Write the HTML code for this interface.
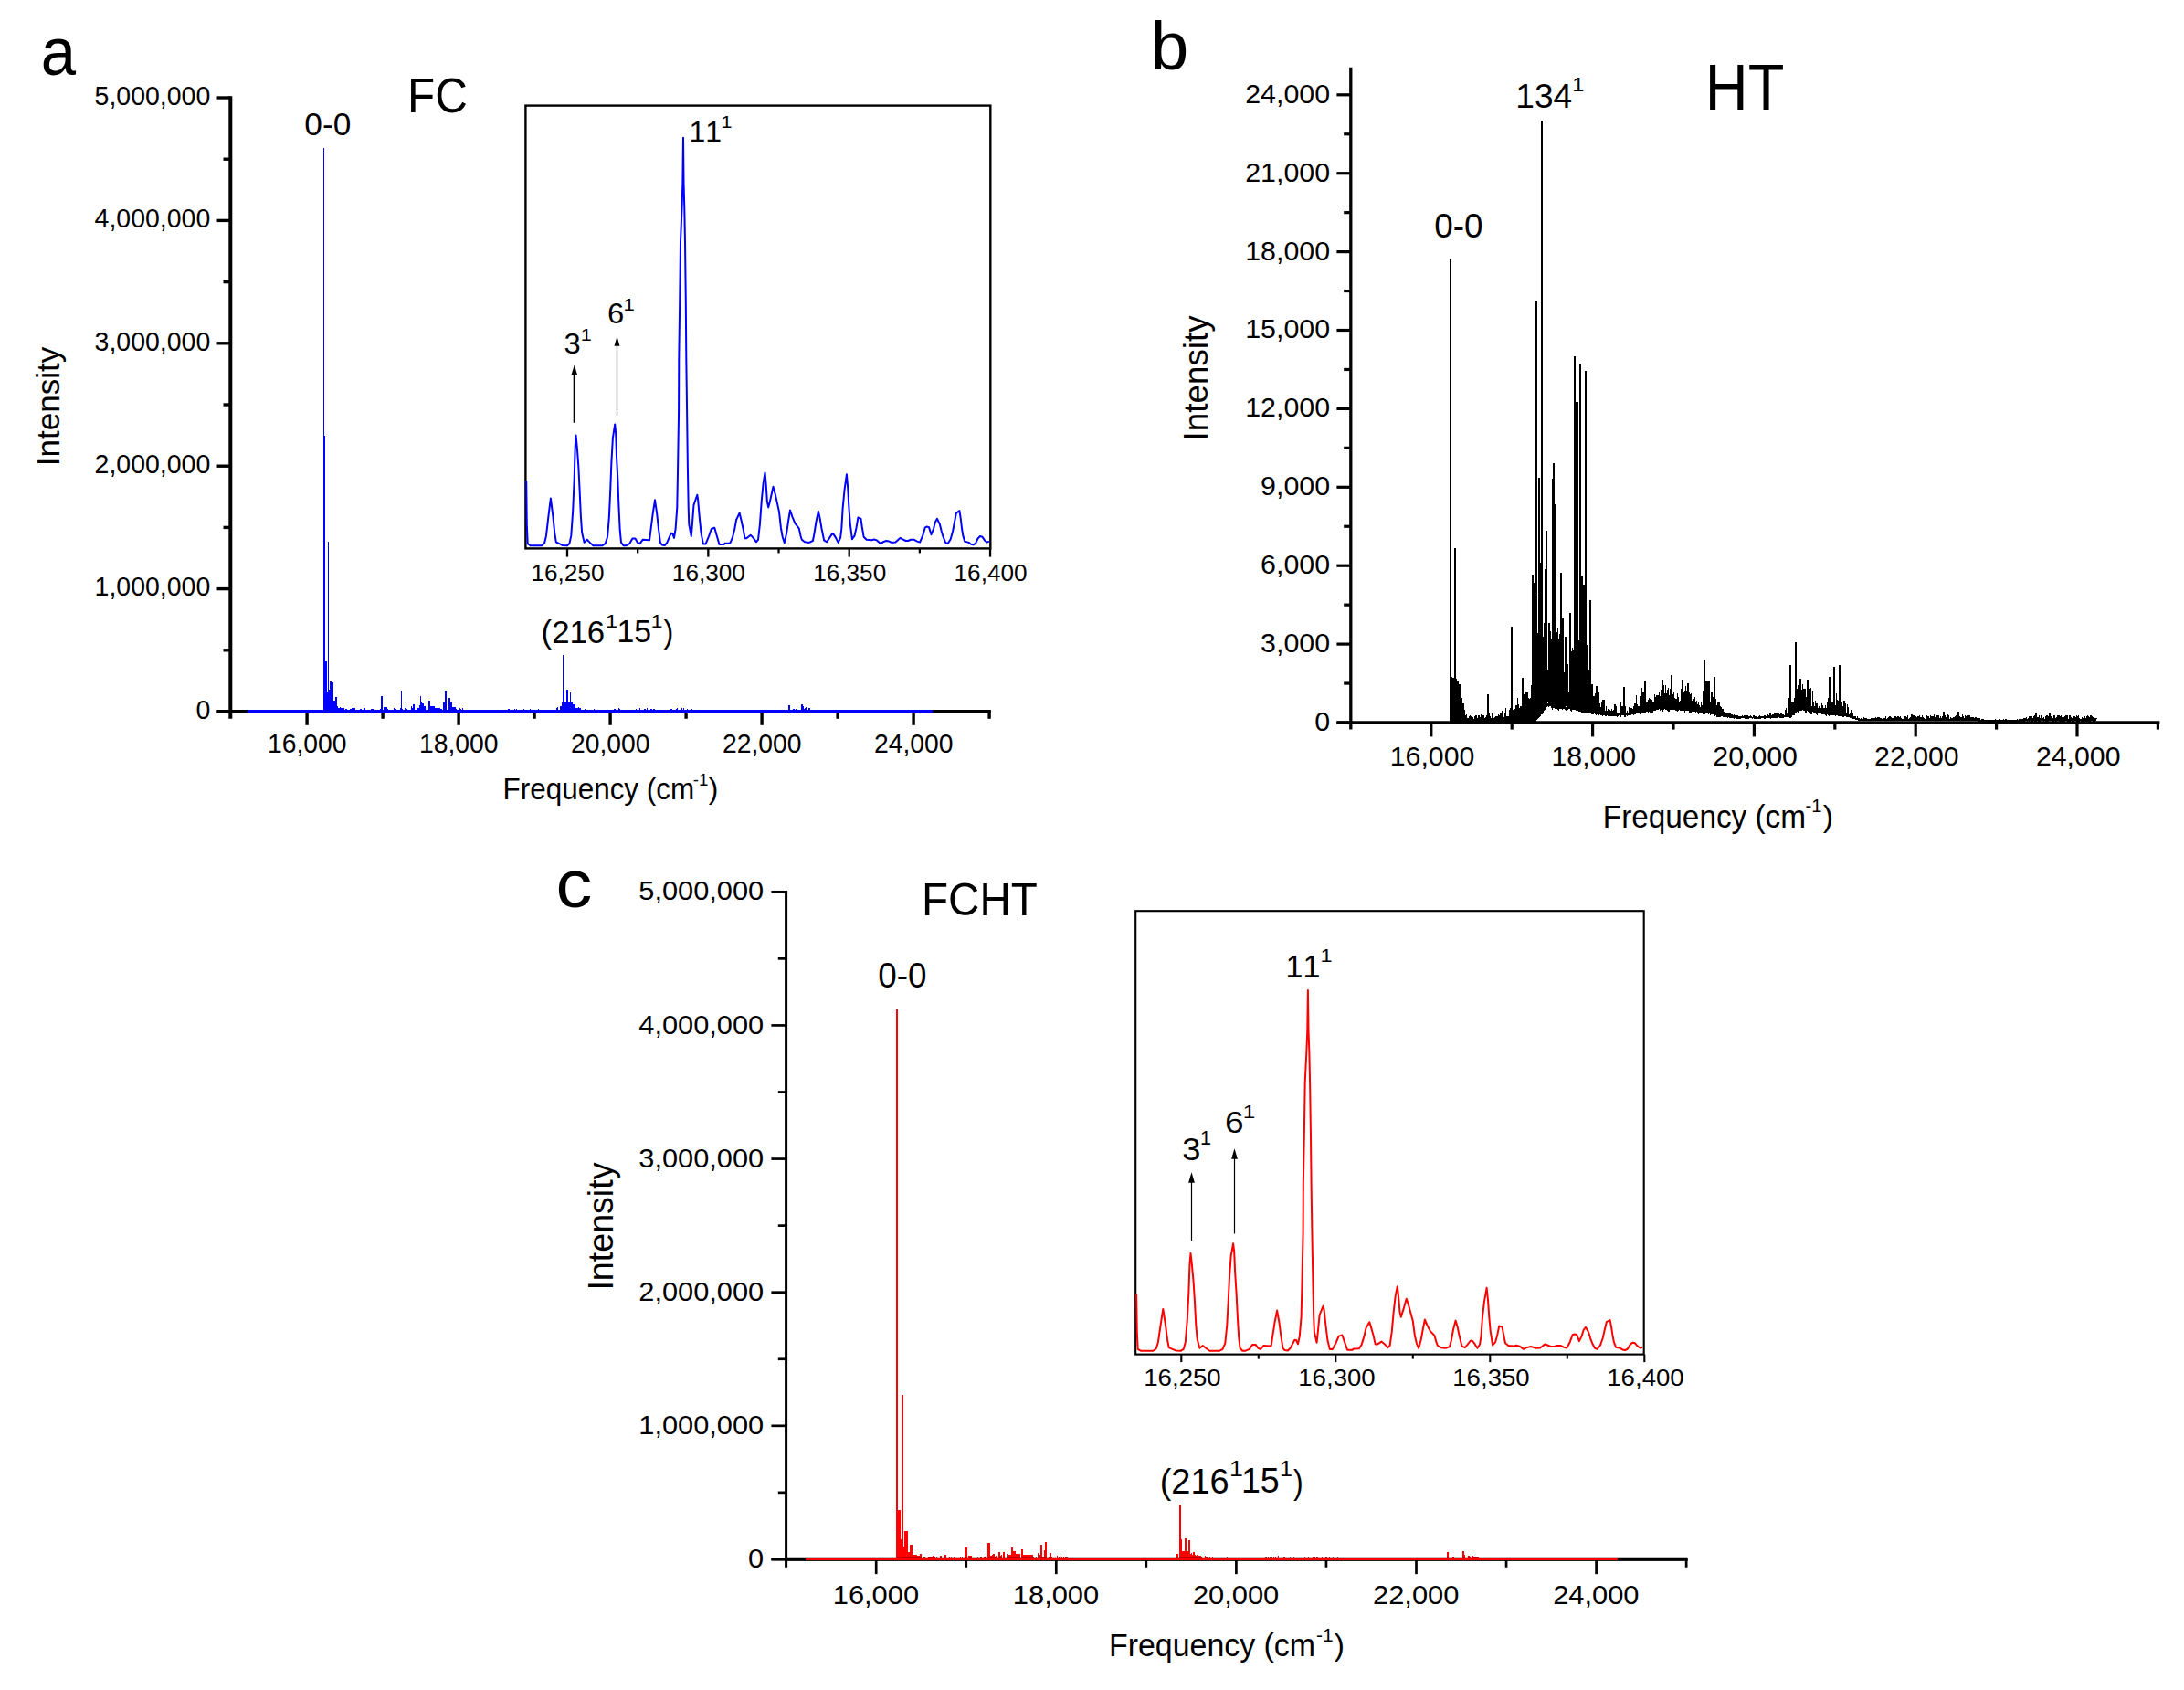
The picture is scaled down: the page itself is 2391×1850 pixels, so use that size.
<!DOCTYPE html>
<html><head><meta charset="utf-8"><title>Spectra</title><style>html,body{margin:0;padding:0;background:#fff}svg{display:block}</style></head><body>
<svg width="2391" height="1850" viewBox="0 0 2391 1850" font-family="&quot;Liberation Sans&quot;, sans-serif" fill="#000" style="font-kerning:none">
<rect width="2391" height="1850" fill="#fff"/>
<path d="M370.0 777.9V776.7H371.0V777.9ZM371.0 777.9V776.3H372.0V777.9ZM372.0 777.9V774.4H373.0V777.9ZM373.0 777.9V776.8H374.0V777.9ZM374.0 777.9V776.6H375.0V777.9ZM375.0 777.9V776.3H376.0V777.9ZM376.0 777.9V777.7H377.0V777.9ZM377.0 777.9V776.7H378.0V777.9ZM378.0 777.9V776.2H379.0V777.9ZM379.0 777.9V775.5H380.0V777.9ZM381.0 777.9V777.4H382.0V777.9ZM383.0 777.9V775.6H384.0V777.9ZM384.0 777.9V776.2H385.0V777.9ZM386.0 777.9V775.0H387.0V777.9ZM387.0 777.9V775.1H388.0V777.9ZM388.0 777.9V776.4H389.0V777.9ZM389.0 777.9V776.6H390.0V777.9ZM392.0 777.9V776.9H393.0V777.9ZM395.0 777.9V777.6H396.0V777.9ZM397.0 777.9V777.2H398.0V777.9ZM398.0 777.9V777.2H399.0V777.9ZM399.0 777.9V776.1H400.0V777.9ZM400.0 777.9V777.1H401.0V777.9ZM401.0 777.9V776.7H402.0V777.9ZM402.0 777.9V777.1H403.0V777.9ZM403.0 777.9V776.7H404.0V777.9ZM404.0 777.9V777.3H405.0V777.9ZM405.0 777.9V777.6H406.0V777.9ZM406.0 777.9V775.7H407.0V777.9ZM407.0 777.9V775.8H408.0V777.9ZM408.0 777.9V776.3H409.0V777.9ZM409.0 777.9V776.7H410.0V777.9ZM410.0 777.9V777.6H411.0V777.9ZM412.0 777.9V777.6H413.0V777.9ZM414.0 777.9V776.6H415.0V777.9ZM415.0 777.9V777.4H416.0V777.9ZM416.0 777.9V776.4H417.0V777.9ZM417.0 777.9V777.5H418.0V777.9ZM418.0 777.9V776.1H419.0V777.9ZM419.0 777.9V776.5H420.0V777.9ZM422.0 777.9V776.3H423.0V777.9ZM423.0 777.9V777.4H424.0V777.9ZM424.0 777.9V776.1H425.0V777.9ZM425.0 777.9V777.5H426.0V777.9ZM427.0 777.9V777.0H428.0V777.9ZM428.0 777.9V776.6H429.0V777.9ZM429.0 777.9V777.7H430.0V777.9ZM431.0 777.9V777.5H432.0V777.9ZM432.0 777.9V775.7H433.0V777.9ZM433.0 777.9V776.3H434.0V777.9ZM435.0 777.9V777.6H436.0V777.9ZM438.0 777.9V775.3H439.0V777.9ZM439.0 777.9V777.6H440.0V777.9ZM440.0 777.9V776.2H441.0V777.9ZM441.0 777.9V776.7H442.0V777.9ZM442.0 777.9V777.6H443.0V777.9ZM443.0 777.9V775.0H444.0V777.9ZM445.0 777.9V775.5H446.0V777.9ZM447.0 777.9V776.7H448.0V777.9ZM448.0 777.9V777.5H449.0V777.9ZM449.0 777.9V777.3H450.0V777.9ZM450.0 777.9V773.3H451.0V777.9ZM451.0 777.9V774.5H452.0V777.9ZM452.0 777.9V777.2H453.0V777.9ZM453.0 777.9V773.9H454.0V777.9ZM454.0 777.9V777.5H455.0V777.9ZM455.0 777.9V776.8H456.0V777.9ZM456.0 777.9V773.9H457.0V777.9ZM457.0 777.9V775.3H458.0V777.9ZM459.0 777.9V772.2H460.0V777.9ZM460.0 777.9V777.4H461.0V777.9ZM461.0 777.9V777.2H462.0V777.9ZM462.0 777.9V773.8H463.0V777.9ZM463.0 777.9V776.8H464.0V777.9ZM464.0 777.9V777.0H465.0V777.9ZM467.0 777.9V775.3H468.0V777.9ZM468.0 777.9V777.3H469.0V777.9ZM469.0 777.9V775.3H470.0V777.9ZM470.0 777.9V776.8H471.0V777.9ZM471.0 777.9V776.4H472.0V777.9ZM472.0 777.9V773.3H473.0V777.9ZM473.0 777.9V776.5H474.0V777.9ZM474.0 777.9V776.2H475.0V777.9ZM475.0 777.9V774.8H476.0V777.9ZM476.0 777.9V777.7H477.0V777.9ZM478.0 777.9V775.4H479.0V777.9ZM479.0 777.9V775.9H480.0V777.9ZM480.0 777.9V777.6H481.0V777.9ZM482.0 777.9V776.4H483.0V777.9ZM483.0 777.9V775.6H484.0V777.9ZM484.0 777.9V777.7H485.0V777.9ZM485.0 777.9V775.0H486.0V777.9ZM486.0 777.9V774.8H487.0V777.9ZM487.0 777.9V775.9H488.0V777.9ZM488.0 777.9V776.6H489.0V777.9ZM491.0 777.9V771.9H492.0V777.9ZM492.0 777.9V777.3H493.0V777.9ZM493.0 777.9V774.5H494.0V777.9ZM494.0 777.9V777.3H495.0V777.9ZM495.0 777.9V774.4H496.0V777.9ZM496.0 777.9V776.1H497.0V777.9ZM497.0 777.9V777.4H498.0V777.9ZM499.0 777.9V776.2H500.0V777.9ZM501.0 777.9V777.6H502.0V777.9ZM502.0 777.9V776.7H503.0V777.9ZM503.0 777.9V775.3H504.0V777.9ZM504.0 777.9V776.3H505.0V777.9ZM505.0 777.9V777.4H506.0V777.9ZM506.0 777.9V774.6H507.0V777.9ZM507.0 777.9V777.6H508.0V777.9ZM509.0 777.9V777.5H510.0V777.9ZM510.0 777.9V777.1H511.0V777.9ZM513.0 777.9V777.5H514.0V777.9ZM514.0 777.9V777.1H515.0V777.9ZM516.0 777.9V777.6H517.0V777.9ZM517.0 777.9V776.7H518.0V777.9ZM518.0 777.9V776.6H519.0V777.9ZM519.0 777.9V777.2H520.0V777.9ZM520.0 777.9V777.2H521.0V777.9ZM521.0 777.9V777.4H522.0V777.9ZM525.0 777.9V776.8H526.0V777.9ZM526.0 777.9V777.2H527.0V777.9ZM527.0 777.9V776.7H528.0V777.9ZM529.0 777.9V777.3H530.0V777.9ZM530.0 777.9V777.5H531.0V777.9ZM531.0 777.9V777.1H532.0V777.9ZM532.0 777.9V777.7H533.0V777.9ZM533.0 777.9V776.5H534.0V777.9ZM535.0 777.9V777.4H536.0V777.9ZM536.0 777.9V777.0H537.0V777.9ZM537.0 777.9V776.7H538.0V777.9ZM538.0 777.9V777.0H539.0V777.9ZM539.0 777.9V777.0H540.0V777.9ZM540.0 777.9V776.8H541.0V777.9ZM541.0 777.9V776.5H542.0V777.9ZM542.0 777.9V777.6H543.0V777.9ZM543.0 777.9V777.0H544.0V777.9ZM544.0 777.9V776.5H545.0V777.9ZM545.0 777.9V776.5H546.0V777.9ZM546.0 777.9V777.5H547.0V777.9ZM547.0 777.9V776.7H548.0V777.9ZM548.0 777.9V776.5H549.0V777.9ZM549.0 777.9V777.1H550.0V777.9ZM550.0 777.9V777.0H551.0V777.9ZM551.0 777.9V777.5H552.0V777.9ZM552.0 777.9V777.1H553.0V777.9ZM553.0 777.9V777.0H554.0V777.9ZM555.0 777.9V776.9H556.0V777.9ZM556.0 777.9V775.8H557.0V777.9ZM557.0 777.9V776.1H558.0V777.9ZM558.0 777.9V776.6H559.0V777.9ZM559.0 777.9V777.4H560.0V777.9ZM560.0 777.9V776.5H561.0V777.9ZM561.0 777.9V776.9H562.0V777.9ZM562.0 777.9V777.3H563.0V777.9ZM563.0 777.9V776.1H564.0V777.9ZM565.0 777.9V776.4H566.0V777.9ZM567.0 777.9V776.8H568.0V777.9ZM568.0 777.9V777.2H569.0V777.9ZM569.0 777.9V777.7H570.0V777.9ZM570.0 777.9V776.5H571.0V777.9ZM571.0 777.9V777.1H572.0V777.9ZM572.0 777.9V776.8H573.0V777.9ZM573.0 777.9V775.8H574.0V777.9ZM574.0 777.9V777.6H575.0V777.9ZM576.0 777.9V777.6H577.0V777.9ZM577.0 777.9V776.7H578.0V777.9ZM580.0 777.9V776.0H581.0V777.9ZM581.0 777.9V776.8H582.0V777.9ZM582.0 777.9V777.3H583.0V777.9ZM583.0 777.9V776.2H584.0V777.9ZM584.0 777.9V777.6H585.0V777.9ZM585.0 777.9V776.9H586.0V777.9ZM587.0 777.9V777.4H588.0V777.9ZM588.0 777.9V776.6H589.0V777.9ZM589.0 777.9V776.3H590.0V777.9ZM590.0 777.9V776.5H591.0V777.9ZM591.0 777.9V777.5H592.0V777.9ZM592.0 777.9V777.2H593.0V777.9ZM593.0 777.9V777.6H594.0V777.9ZM595.0 777.9V777.4H596.0V777.9ZM596.0 777.9V776.7H597.0V777.9ZM597.0 777.9V776.7H598.0V777.9ZM598.0 777.9V777.0H599.0V777.9ZM599.0 777.9V776.5H600.0V777.9ZM602.0 777.9V777.5H603.0V777.9ZM603.0 777.9V777.7H604.0V777.9ZM605.0 777.9V777.4H606.0V777.9ZM606.0 777.9V776.7H607.0V777.9ZM607.0 777.9V776.9H608.0V777.9ZM608.0 777.9V777.4H609.0V777.9ZM609.0 777.9V775.1H610.0V777.9ZM610.0 777.9V774.2H611.0V777.9ZM611.0 777.9V776.9H612.0V777.9ZM614.0 777.9V775.8H615.0V777.9ZM616.0 777.9V776.9H617.0V777.9ZM617.0 777.9V777.3H618.0V777.9ZM618.0 777.9V777.7H619.0V777.9ZM619.0 777.9V777.0H620.0V777.9ZM621.0 777.9V777.5H622.0V777.9ZM622.0 777.9V775.4H623.0V777.9ZM624.0 777.9V772.4H625.0V777.9ZM625.0 777.9V777.2H626.0V777.9ZM626.0 777.9V777.6H627.0V777.9ZM628.0 777.9V775.3H629.0V777.9ZM629.0 777.9V776.5H630.0V777.9ZM630.0 777.9V775.6H631.0V777.9ZM631.0 777.9V775.6H632.0V777.9ZM632.0 777.9V775.0H633.0V777.9ZM633.0 777.9V774.3H634.0V777.9ZM634.0 777.9V775.9H635.0V777.9ZM635.0 777.9V777.6H636.0V777.9ZM636.0 777.9V776.9H637.0V777.9ZM639.0 777.9V777.1H640.0V777.9ZM640.0 777.9V776.4H641.0V777.9ZM642.0 777.9V777.6H643.0V777.9ZM643.0 777.9V777.5H644.0V777.9ZM644.0 777.9V776.7H645.0V777.9ZM645.0 777.9V777.2H646.0V777.9ZM646.0 777.9V777.0H647.0V777.9ZM647.0 777.9V776.7H648.0V777.9ZM648.0 777.9V777.5H649.0V777.9ZM649.0 777.9V776.7H650.0V777.9ZM650.0 777.9V776.4H651.0V777.9ZM652.0 777.9V776.4H653.0V777.9ZM653.0 777.9V776.9H654.0V777.9ZM655.0 777.9V777.5H656.0V777.9ZM656.0 777.9V777.2H657.0V777.9ZM657.0 777.9V776.6H658.0V777.9ZM658.0 777.9V777.6H659.0V777.9ZM659.0 777.9V777.3H660.0V777.9ZM660.0 777.9V776.7H661.0V777.9ZM661.0 777.9V776.9H662.0V777.9ZM662.0 777.9V776.6H663.0V777.9ZM663.0 777.9V777.5H664.0V777.9ZM664.0 777.9V777.2H665.0V777.9ZM666.0 777.9V777.1H667.0V777.9ZM667.0 777.9V776.9H668.0V777.9ZM668.0 777.9V777.3H669.0V777.9ZM669.0 777.9V777.1H670.0V777.9ZM671.0 777.9V776.7H672.0V777.9ZM672.0 777.9V776.3H673.0V777.9ZM673.0 777.9V775.9H674.0V777.9ZM674.0 777.9V777.0H675.0V777.9ZM675.0 777.9V775.8H676.0V777.9ZM676.0 777.9V777.3H677.0V777.9ZM677.0 777.9V775.0H678.0V777.9ZM678.0 777.9V775.6H679.0V777.9ZM679.0 777.9V777.4H680.0V777.9ZM681.0 777.9V777.5H682.0V777.9ZM682.0 777.9V777.4H683.0V777.9ZM683.0 777.9V777.1H684.0V777.9ZM684.0 777.9V777.5H685.0V777.9ZM686.0 777.9V777.0H687.0V777.9ZM688.0 777.9V777.0H689.0V777.9ZM690.0 777.9V777.6H691.0V777.9ZM691.0 777.9V776.9H692.0V777.9ZM694.0 777.9V777.2H695.0V777.9ZM695.0 777.9V776.7H696.0V777.9ZM696.0 777.9V776.2H697.0V777.9ZM697.0 777.9V776.5H698.0V777.9ZM698.0 777.9V775.4H699.0V777.9ZM699.0 777.9V777.0H700.0V777.9ZM700.0 777.9V775.0H701.0V777.9ZM702.0 777.9V777.6H703.0V777.9ZM703.0 777.9V776.6H704.0V777.9ZM704.0 777.9V777.4H705.0V777.9ZM705.0 777.9V775.6H706.0V777.9ZM706.0 777.9V776.0H707.0V777.9ZM707.0 777.9V776.6H708.0V777.9ZM708.0 777.9V775.1H709.0V777.9ZM709.0 777.9V776.5H710.0V777.9ZM710.0 777.9V777.4H711.0V777.9ZM711.0 777.9V777.2H712.0V777.9ZM712.0 777.9V775.7H713.0V777.9ZM713.0 777.9V775.6H714.0V777.9ZM715.0 777.9V776.2H716.0V777.9ZM716.0 777.9V775.9H717.0V777.9ZM717.0 777.9V777.2H718.0V777.9ZM718.0 777.9V777.2H719.0V777.9ZM720.0 777.9V777.3H721.0V777.9ZM721.0 777.9V777.4H722.0V777.9ZM722.0 777.9V777.3H723.0V777.9ZM724.0 777.9V776.6H725.0V777.9ZM725.0 777.9V777.4H726.0V777.9ZM726.0 777.9V777.6H727.0V777.9ZM727.0 777.9V776.9H728.0V777.9ZM728.0 777.9V777.3H729.0V777.9ZM729.0 777.9V777.4H730.0V777.9ZM730.0 777.9V776.9H731.0V777.9ZM732.0 777.9V777.2H733.0V777.9ZM733.0 777.9V777.4H734.0V777.9ZM734.0 777.9V775.8H735.0V777.9ZM735.0 777.9V775.8H736.0V777.9ZM736.0 777.9V777.6H737.0V777.9ZM737.0 777.9V777.1H738.0V777.9ZM739.0 777.9V777.1H740.0V777.9ZM740.0 777.9V775.6H741.0V777.9ZM741.0 777.9V775.1H742.0V777.9ZM742.0 777.9V776.8H743.0V777.9ZM743.0 777.9V777.3H744.0V777.9ZM744.0 777.9V777.6H745.0V777.9ZM745.0 777.9V776.2H746.0V777.9ZM746.0 777.9V774.6H747.0V777.9ZM748.0 777.9V775.4H749.0V777.9ZM750.0 777.9V777.6H751.0V777.9ZM751.0 777.9V777.6H752.0V777.9ZM752.0 777.9V776.0H753.0V777.9ZM753.0 777.9V777.4H754.0V777.9ZM754.0 777.9V777.3H755.0V777.9ZM755.0 777.9V776.5H756.0V777.9ZM757.0 777.9V776.3H758.0V777.9ZM759.0 777.9V777.1H760.0V777.9ZM760.0 777.9V777.7H761.0V777.9ZM762.0 777.9V777.2H763.0V777.9ZM763.0 777.9V777.4H764.0V777.9ZM764.0 777.9V777.5H765.0V777.9ZM765.0 777.9V777.5H766.0V777.9ZM766.0 777.9V777.3H767.0V777.9ZM769.0 777.9V777.2H770.0V777.9ZM770.0 777.9V777.3H771.0V777.9ZM771.0 777.9V777.4H772.0V777.9ZM772.0 777.9V776.9H773.0V777.9ZM773.0 777.9V777.3H774.0V777.9ZM774.0 777.9V776.9H775.0V777.9ZM776.0 777.9V777.1H777.0V777.9ZM777.0 777.9V777.0H778.0V777.9ZM778.0 777.9V776.9H779.0V777.9ZM781.0 777.9V776.8H782.0V777.9ZM783.0 777.9V776.7H784.0V777.9ZM784.0 777.9V776.9H785.0V777.9ZM787.0 777.9V777.2H788.0V777.9ZM790.0 777.9V777.0H791.0V777.9ZM791.0 777.9V777.6H792.0V777.9ZM792.0 777.9V777.1H793.0V777.9ZM794.0 777.9V777.6H795.0V777.9ZM795.0 777.9V777.2H796.0V777.9ZM798.0 777.9V777.2H799.0V777.9ZM799.0 777.9V776.9H800.0V777.9ZM800.0 777.9V776.8H801.0V777.9ZM802.0 777.9V777.5H803.0V777.9ZM803.0 777.9V777.1H804.0V777.9ZM804.0 777.9V777.5H805.0V777.9ZM805.0 777.9V777.2H806.0V777.9ZM810.0 777.9V777.4H811.0V777.9ZM811.0 777.9V777.5H812.0V777.9ZM812.0 777.9V777.4H813.0V777.9ZM816.0 777.9V777.0H817.0V777.9ZM817.0 777.9V776.7H818.0V777.9ZM818.0 777.9V776.8H819.0V777.9ZM821.0 777.9V776.8H822.0V777.9ZM822.0 777.9V777.6H823.0V777.9ZM823.0 777.9V777.1H824.0V777.9ZM824.0 777.9V777.7H825.0V777.9ZM825.0 777.9V777.5H826.0V777.9ZM826.0 777.9V777.5H827.0V777.9ZM827.0 777.9V777.6H828.0V777.9ZM828.0 777.9V777.4H829.0V777.9ZM830.0 777.9V777.2H831.0V777.9ZM831.0 777.9V777.0H832.0V777.9ZM833.0 777.9V777.6H834.0V777.9ZM834.0 777.9V777.2H835.0V777.9ZM835.0 777.9V777.6H836.0V777.9ZM838.0 777.9V777.5H839.0V777.9ZM840.0 777.9V776.9H841.0V777.9ZM841.0 777.9V777.1H842.0V777.9ZM842.0 777.9V777.2H843.0V777.9ZM843.0 777.9V777.0H844.0V777.9ZM844.0 777.9V777.3H845.0V777.9ZM845.0 777.9V777.6H846.0V777.9ZM846.0 777.9V777.4H847.0V777.9ZM847.0 777.9V777.5H848.0V777.9ZM848.0 777.9V776.7H849.0V777.9ZM849.0 777.9V777.1H850.0V777.9ZM851.0 777.9V776.9H852.0V777.9ZM852.0 777.9V777.2H853.0V777.9ZM853.0 777.9V777.1H854.0V777.9ZM854.0 777.9V777.0H855.0V777.9ZM855.0 777.9V777.6H856.0V777.9ZM856.0 777.9V776.9H857.0V777.9ZM857.0 777.9V776.9H858.0V777.9ZM858.0 777.9V777.2H859.0V777.9ZM859.0 777.9V777.1H860.0V777.9ZM860.0 777.9V777.1H861.0V777.9ZM861.0 777.9V777.6H862.0V777.9ZM862.0 777.9V777.2H863.0V777.9ZM864.0 777.9V777.6H865.0V777.9ZM865.0 777.9V777.4H866.0V777.9ZM867.0 777.9V777.4H868.0V777.9ZM868.0 777.9V776.4H869.0V777.9ZM869.0 777.9V776.4H870.0V777.9ZM870.0 777.9V777.6H871.0V777.9ZM871.0 777.9V775.5H872.0V777.9ZM872.0 777.9V776.7H873.0V777.9ZM873.0 777.9V777.6H874.0V777.9ZM874.0 777.9V776.9H875.0V777.9ZM875.0 777.9V777.0H876.0V777.9ZM876.0 777.9V777.0H877.0V777.9ZM877.0 777.9V777.2H878.0V777.9ZM878.0 777.9V774.4H879.0V777.9ZM879.0 777.9V776.0H880.0V777.9ZM880.0 777.9V775.5H881.0V777.9ZM881.0 777.9V775.2H882.0V777.9ZM882.0 777.9V774.1H883.0V777.9ZM884.0 777.9V776.5H885.0V777.9ZM885.0 777.9V776.3H886.0V777.9ZM886.0 777.9V777.7H887.0V777.9ZM887.0 777.9V777.5H888.0V777.9ZM890.0 777.9V777.6H891.0V777.9ZM893.0 777.9V776.9H894.0V777.9ZM894.0 777.9V777.4H895.0V777.9ZM895.0 777.9V777.5H896.0V777.9ZM896.0 777.9V776.8H897.0V777.9ZM897.0 777.9V777.4H898.0V777.9ZM898.0 777.9V776.7H899.0V777.9ZM899.0 777.9V777.3H900.0V777.9ZM900.0 777.9V777.0H901.0V777.9ZM902.0 777.9V777.4H903.0V777.9ZM903.0 777.9V777.1H904.0V777.9ZM905.0 777.9V776.8H906.0V777.9ZM907.0 777.9V777.5H908.0V777.9ZM909.0 777.9V777.5H910.0V777.9ZM910.0 777.9V777.4H911.0V777.9ZM912.0 777.9V776.8H913.0V777.9ZM913.0 777.9V777.6H914.0V777.9ZM914.0 777.9V777.5H915.0V777.9ZM915.0 777.9V777.4H916.0V777.9ZM916.0 777.9V777.7H917.0V777.9ZM918.0 777.9V777.3H919.0V777.9ZM919.0 777.9V777.4H920.0V777.9ZM921.0 777.9V777.2H922.0V777.9ZM927.0 777.9V777.1H928.0V777.9ZM928.0 777.9V777.6H929.0V777.9ZM929.0 777.9V776.9H930.0V777.9ZM930.0 777.9V777.1H931.0V777.9ZM932.0 777.9V776.7H933.0V777.9ZM933.0 777.9V776.8H934.0V777.9ZM935.0 777.9V776.9H936.0V777.9ZM936.0 777.9V777.6H937.0V777.9ZM937.0 777.9V777.5H938.0V777.9ZM938.0 777.9V776.8H939.0V777.9ZM940.0 777.9V777.5H941.0V777.9ZM941.0 777.9V776.8H942.0V777.9ZM942.0 777.9V777.2H943.0V777.9ZM943.0 777.9V777.5H944.0V777.9ZM944.0 777.9V776.7H945.0V777.9ZM945.0 777.9V777.0H946.0V777.9ZM946.0 777.9V777.4H947.0V777.9ZM948.0 777.9V777.3H949.0V777.9ZM949.0 777.9V777.6H950.0V777.9ZM952.0 777.9V777.5H953.0V777.9ZM954.0 777.9V777.6H955.0V777.9ZM955.0 777.9V777.3H956.0V777.9ZM956.0 777.9V777.6H957.0V777.9ZM958.0 777.9V777.4H959.0V777.9ZM959.0 777.9V777.6H960.0V777.9ZM960.0 777.9V777.1H961.0V777.9ZM961.0 777.9V777.5H962.0V777.9ZM962.0 777.9V776.7H963.0V777.9ZM963.0 777.9V776.8H964.0V777.9ZM964.0 777.9V777.2H965.0V777.9ZM967.0 777.9V776.9H968.0V777.9ZM968.0 777.9V777.1H969.0V777.9ZM969.0 777.9V777.3H970.0V777.9ZM970.0 777.9V777.7H971.0V777.9ZM972.0 777.9V777.2H973.0V777.9ZM973.0 777.9V777.4H974.0V777.9ZM974.0 777.9V777.4H975.0V777.9ZM975.0 777.9V777.3H976.0V777.9ZM976.0 777.9V777.1H977.0V777.9ZM979.0 777.9V776.7H980.0V777.9ZM980.0 777.9V776.9H981.0V777.9ZM981.0 777.9V776.9H982.0V777.9ZM985.0 777.9V777.6H986.0V777.9ZM986.0 777.9V777.3H987.0V777.9ZM988.0 777.9V777.5H989.0V777.9ZM991.0 777.9V777.3H992.0V777.9ZM992.0 777.9V777.4H993.0V777.9ZM993.0 777.9V777.3H994.0V777.9ZM994.0 777.9V777.7H995.0V777.9ZM995.0 777.9V777.5H996.0V777.9ZM997.0 777.9V777.7H998.0V777.9ZM998.0 777.9V777.2H999.0V777.9ZM999.0 777.9V777.0H1000.0V777.9ZM1002.0 777.9V777.0H1003.0V777.9ZM1003.0 777.9V777.3H1004.0V777.9ZM1004.0 777.9V777.1H1005.0V777.9ZM1006.0 777.9V777.6H1007.0V777.9ZM1008.0 777.9V777.0H1009.0V777.9ZM1009.0 777.9V777.7H1010.0V777.9ZM1010.0 777.9V777.3H1011.0V777.9ZM1011.0 777.9V776.7H1012.0V777.9ZM1013.0 777.9V777.4H1014.0V777.9ZM1014.0 777.9V777.1H1015.0V777.9ZM1015.0 777.9V776.8H1016.0V777.9ZM1016.0 777.9V777.6H1017.0V777.9ZM1017.0 777.9V777.7H1018.0V777.9ZM1019.0 777.9V776.9H1020.0V777.9ZM353.9 777.9V161.8H355.1V777.9ZM355.1 777.9V476.5H356.1V777.9ZM356.0 777.9V724.0H357.7V777.9ZM357.7 777.9V757.3H358.9V777.9ZM358.9 777.9V592.5H360.0V777.9ZM359.9 777.9V755.2H361.3V777.9ZM361.3 777.9V745.7H363.0V777.9ZM363.0 777.9V747.0H365.1V777.9ZM365.1 777.9V766.5H367.0V777.9ZM367.0 777.9V763.0H369.1V777.9ZM369.1 777.9V772.9H370.1V777.9ZM370.1 777.9V774.8H376.9V777.9ZM385.4 777.9V774.6H389.0V777.9ZM393.9 777.9V775.8H396.1V777.9ZM398.2 777.9V774.8H399.9V777.9ZM417.1 777.9V761.6H419.1V777.9ZM420.2 777.9V773.6H423.8V777.9ZM430.9 777.9V774.8H432.3V777.9ZM439.1 777.9V755.6H440.1V777.9ZM444.1 777.9V771.8H445.1V777.9ZM452.2 777.9V770.5H453.9V777.9ZM456.4 777.9V774.8H459.3V777.9ZM460.0 777.9V761.6H461.0V777.9ZM461.0 777.9V768.2H462.4V777.9ZM462.4 777.9V770.1H464.2V777.9ZM464.2 777.9V772.5H466.3V777.9ZM468.9 777.9V766.5H470.9V777.9ZM471.3 777.9V773.2H476.3V777.9ZM476.3 777.9V774.5H482.0V777.9ZM484.8 777.9V768.7H486.9V777.9ZM486.9 777.9V755.6H489.1V777.9ZM490.8 777.9V763.7H493.0V777.9ZM493.0 777.9V768.7H494.7V777.9ZM496.2 777.9V773.6H499.0V777.9ZM613.3 777.9V772.5H615.0V777.9ZM615.0 777.9V768.8H616.0V777.9ZM616.0 777.9V716.7H617.1V777.9ZM617.0 777.9V755.5H618.0V777.9ZM618.0 777.9V768.8H620.0V777.9ZM620.0 777.9V754.7H622.0V777.9ZM622.0 777.9V768.5H624.2V777.9ZM624.2 777.9V757.7H625.2V777.9ZM625.2 777.9V768.8H626.7V777.9ZM626.7 777.9V770.5H630.0V777.9ZM630.0 777.9V775.2H635.8V777.9ZM863.3 777.9V771.7H865.0V777.9ZM867.5 777.9V775.5H869.2V777.9ZM877.0 777.9V770.5H878.7V777.9ZM878.7 777.9V773.0H880.0V777.9ZM882.0 777.9V775.2H883.3V777.9ZM885.3 777.9V775.2H886.7V777.9Z" fill="#0000ff" shape-rendering="crispEdges"/>
<line x1="252.30" y1="105.30" x2="252.30" y2="786.80" stroke="#000" stroke-width="4.0" />
<line x1="237.50" y1="779.00" x2="1084.90" y2="779.00" stroke="#000" stroke-width="4.0" />
<line x1="237.50" y1="779.00" x2="252.30" y2="779.00" stroke="#000" stroke-width="3.4" />
<line x1="237.50" y1="644.60" x2="252.30" y2="644.60" stroke="#000" stroke-width="3.4" />
<line x1="237.50" y1="510.20" x2="252.30" y2="510.20" stroke="#000" stroke-width="3.4" />
<line x1="237.50" y1="375.80" x2="252.30" y2="375.80" stroke="#000" stroke-width="3.4" />
<line x1="237.50" y1="241.40" x2="252.30" y2="241.40" stroke="#000" stroke-width="3.4" />
<line x1="237.50" y1="107.00" x2="252.30" y2="107.00" stroke="#000" stroke-width="3.4" />
<line x1="244.50" y1="711.80" x2="252.30" y2="711.80" stroke="#000" stroke-width="3.4" />
<line x1="244.50" y1="577.40" x2="252.30" y2="577.40" stroke="#000" stroke-width="3.4" />
<line x1="244.50" y1="443.00" x2="252.30" y2="443.00" stroke="#000" stroke-width="3.4" />
<line x1="244.50" y1="308.60" x2="252.30" y2="308.60" stroke="#000" stroke-width="3.4" />
<line x1="244.50" y1="174.20" x2="252.30" y2="174.20" stroke="#000" stroke-width="3.4" />
<line x1="336.10" y1="779.00" x2="336.10" y2="793.80" stroke="#000" stroke-width="3.4" />
<line x1="502.10" y1="779.00" x2="502.10" y2="793.80" stroke="#000" stroke-width="3.4" />
<line x1="668.10" y1="779.00" x2="668.10" y2="793.80" stroke="#000" stroke-width="3.4" />
<line x1="834.10" y1="779.00" x2="834.10" y2="793.80" stroke="#000" stroke-width="3.4" />
<line x1="1000.10" y1="779.00" x2="1000.10" y2="793.80" stroke="#000" stroke-width="3.4" />
<line x1="419.10" y1="779.00" x2="419.10" y2="786.80" stroke="#000" stroke-width="3.4" />
<line x1="585.10" y1="779.00" x2="585.10" y2="786.80" stroke="#000" stroke-width="3.4" />
<line x1="751.10" y1="779.00" x2="751.10" y2="786.80" stroke="#000" stroke-width="3.4" />
<line x1="917.10" y1="779.00" x2="917.10" y2="786.80" stroke="#000" stroke-width="3.4" />
<line x1="1083.10" y1="779.00" x2="1083.10" y2="786.80" stroke="#000" stroke-width="3.4" />
<line x1="271.00" y1="778.70" x2="1021.00" y2="778.70" stroke="#0000ff" stroke-width="3.2" shape-rendering="crispEdges"/>
<text transform="translate(230.23,786.71) scale(0.9719,1)" font-size="29.30" text-anchor="end">0</text>
<text transform="translate(230.23,652.31) scale(0.9719,1)" font-size="29.30" text-anchor="end">1,000,000</text>
<text transform="translate(230.23,517.91) scale(0.9719,1)" font-size="29.30" text-anchor="end">2,000,000</text>
<text transform="translate(230.23,383.51) scale(0.9719,1)" font-size="29.30" text-anchor="end">3,000,000</text>
<text transform="translate(230.23,249.11) scale(0.9719,1)" font-size="29.30" text-anchor="end">4,000,000</text>
<text transform="translate(230.23,114.71) scale(0.9719,1)" font-size="29.30" text-anchor="end">5,000,000</text>
<text transform="translate(336.30,823.91) scale(0.9811,1)" font-size="28.87" text-anchor="middle">16,000</text>
<text transform="translate(502.30,823.91) scale(0.9811,1)" font-size="28.87" text-anchor="middle">18,000</text>
<text transform="translate(668.30,823.91) scale(0.9811,1)" font-size="28.87" text-anchor="middle">20,000</text>
<text transform="translate(834.30,823.91) scale(0.9811,1)" font-size="28.87" text-anchor="middle">22,000</text>
<text transform="translate(1000.30,823.91) scale(0.9811,1)" font-size="28.87" text-anchor="middle">24,000</text>
<text transform="translate(44.74,82.25) scale(0.9247,1)" font-size="74.55">a</text>
<text transform="translate(64.70,510.15) rotate(-90) scale(1.0105,1)" font-size="34.64">Intensity</text>
<text transform="translate(550.48,875.00) scale(0.9648,1)" font-size="32.61">Frequency (cm</text>
<text transform="translate(758.86,860.00) scale(0.9668,1)" font-size="19.28">-1</text>
<text transform="translate(775.64,874.26) scale(1.0185,1)" font-size="31.12">)</text>
<text transform="translate(446.05,123.00) scale(0.9278,1)" font-size="53.19">FC</text>
<text transform="translate(333.29,148.35) scale(1.0223,1)" font-size="34.51">0-0</text>
<text transform="translate(592.61,703.70) scale(0.9938,1)" font-size="35.00">(216</text>
<text transform="translate(662.65,687.00) scale(1.1580,1)" font-size="21.01">1</text>
<text transform="translate(675.52,703.35) scale(0.9651,1)" font-size="35.00">15</text>
<text transform="translate(712.81,687.00) scale(1.0856,1)" font-size="21.01">1</text>
<text transform="translate(726.54,703.50) scale(0.9336,1)" font-size="34.76">)</text>
<rect x="575.4" y="115.6" width="508.9" height="484.8" fill="#fff" stroke="#000" stroke-width="2.4"/>
<line x1="621.00" y1="600.40" x2="621.00" y2="609.60" stroke="#000" stroke-width="2.3" />
<line x1="775.35" y1="600.40" x2="775.35" y2="609.60" stroke="#000" stroke-width="2.3" />
<line x1="929.70" y1="600.40" x2="929.70" y2="609.60" stroke="#000" stroke-width="2.3" />
<line x1="1084.05" y1="600.40" x2="1084.05" y2="609.60" stroke="#000" stroke-width="2.3" />
<line x1="698.17" y1="600.40" x2="698.17" y2="605.40" stroke="#000" stroke-width="2.3" />
<line x1="852.52" y1="600.40" x2="852.52" y2="605.40" stroke="#000" stroke-width="2.3" />
<line x1="1006.88" y1="600.40" x2="1006.88" y2="605.40" stroke="#000" stroke-width="2.3" />
<text transform="translate(621.50,635.55) scale(1.0446,1)" font-size="25.07" text-anchor="middle">16,250</text>
<text transform="translate(775.85,635.55) scale(1.0446,1)" font-size="25.07" text-anchor="middle">16,300</text>
<text transform="translate(930.20,635.55) scale(1.0446,1)" font-size="25.07" text-anchor="middle">16,350</text>
<text transform="translate(1084.55,635.55) scale(1.0446,1)" font-size="25.07" text-anchor="middle">16,400</text>
<polyline points="576.2,526.1 576.8,574.0 577.7,595.1 580.6,597.2 593.0,597.2 596.1,594.5 598.0,586.4 600.4,565.3 602.9,545.4 605.4,565.3 607.3,583.9 608.8,593.3 612.3,595.1 616.0,597.0 621.0,597.2 623.4,595.1 625.3,586.4 627.2,559.1 628.7,524.3 629.7,489.5 630.5,476.4 631.8,489.5 633.4,511.9 634.6,536.7 635.9,565.3 637.1,582.7 639.6,593.9 642.7,590.8 645.8,593.9 649.5,597.2 659.5,597.2 662.6,595.1 665.1,587.7 666.9,565.3 668.2,536.7 669.4,505.6 670.9,479.5 673.2,464.4 674.2,474.6 675.0,499.4 676.3,524.3 677.5,555.4 678.7,580.2 680.0,593.9 682.5,597.2 685.6,597.2 689.3,595.1 692.4,589.5 695.5,589.5 698.0,593.9 700.5,595.1 703.6,590.8 711.1,591.2 712.9,576.5 714.8,561.6 717.0,547.3 719.1,561.6 721.0,579.0 722.9,593.9 724.7,596.4 727.8,597.0 730.3,593.9 734.7,583.7 736.3,583.9 738.0,588.9 739.6,579.0 741.3,555.4 742.1,511.9 743.1,449.7 743.3,391.7 744.2,330.8 745.0,265.0 746.5,228.0 747.4,200.0 748.0,150.8 748.5,200.0 749.3,228.0 750.0,265.0 750.8,330.8 751.3,391.7 752.1,449.7 752.9,511.9 753.7,555.4 754.3,574.0 756.8,587.0 757.9,574.0 759.5,552.9 763.3,541.7 764.1,546.7 765.7,565.3 767.6,583.9 769.9,595.4 772.6,595.4 776.3,586.4 778.8,579.0 782.3,577.7 784.4,585.2 787.5,596.1 792.5,596.1 793.7,594.8 799.3,594.5 801.8,588.9 804.3,579.0 806.1,569.0 809.6,561.6 811.7,570.3 813.6,579.0 815.5,589.2 817.3,589.2 821.7,585.8 824.8,588.9 827.9,593.3 830.0,590.8 831.9,574.0 833.7,549.1 835.6,529.3 837.5,517.4 838.7,530.5 839.9,549.1 841.2,555.4 843.7,545.4 846.5,532.7 848.6,540.4 851.1,551.6 853.0,560.3 854.9,577.7 856.7,587.7 858.8,594.1 861.1,583.9 862.9,571.5 865.0,558.5 867.3,565.3 870.4,572.8 874.7,578.3 876.6,587.0 877.8,590.8 881.0,593.3 885.9,593.9 889.9,592.0 891.5,583.9 893.4,571.5 895.9,559.7 897.7,567.8 899.6,579.0 902.1,591.4 905.2,593.3 907.7,589.5 910.8,584.6 912.6,584.9 915.1,588.9 917.6,593.9 920.1,588.9 921.3,579.0 922.6,556.6 924.5,536.7 926.9,519.3 928.2,534.2 929.4,555.4 930.7,572.8 932.9,590.2 935.6,586.4 937.5,577.7 939.4,566.5 942.5,567.8 943.7,576.5 945.6,587.7 948.7,590.8 954.3,591.2 956.8,590.5 959.9,591.4 964.0,595.1 966.7,593.3 970.4,592.0 972.9,592.4 976.0,593.9 980.4,593.6 985.4,588.9 987.8,590.2 991.6,592.0 994.1,592.0 997.2,590.8 1000.9,590.8 1004.0,592.6 1007.1,593.6 1010.2,586.4 1012.7,577.7 1014.6,576.5 1017.0,577.1 1019.5,585.2 1022.0,579.0 1023.9,571.5 1026.0,567.8 1028.9,574.0 1030.7,581.5 1032.6,587.7 1035.1,593.9 1037.6,595.1 1040.7,590.2 1043.1,581.5 1045.0,571.5 1046.9,561.6 1050.4,559.1 1051.6,566.5 1053.1,579.0 1054.3,586.4 1056.2,592.6 1060.5,593.9 1063.0,595.7 1065.5,596.4 1068.0,594.9 1070.5,589.5 1073.0,587.0 1075.5,587.7 1077.9,591.4 1080.4,593.6 1082.9,592.6" fill="none" stroke="#0000ff" stroke-width="2.0" stroke-linejoin="round" />
<text transform="translate(754.51,155.00) scale(1.0031,1)" font-size="31.88">11</text>
<text transform="translate(789.30,140.00) scale(1.1441,1)" font-size="19.28">1</text>
<text transform="translate(665.05,354.38) scale(1.0291,1)" font-size="31.97">6</text>
<text transform="translate(682.60,340.00) scale(1.1441,1)" font-size="19.28">1</text>
<text transform="translate(617.39,387.18) scale(1.0297,1)" font-size="31.69">3</text>
<text transform="translate(635.64,373.00) scale(1.1244,1)" font-size="19.28">1</text>
<line x1="675.50" y1="376.80" x2="675.50" y2="454.70" stroke="#000" stroke-width="1.2" />
<path d="M675.5 368.3 L672.5 378.8 L678.5 378.8 Z" fill="#000"/>
<line x1="628.80" y1="408.00" x2="628.80" y2="462.80" stroke="#000" stroke-width="2.2" />
<path d="M628.8 399.5 L625.6 410.0 L632.0 410.0 Z" fill="#000"/>
<path d="M1001.0 1705.5V1704.2H1002.0V1705.5ZM1002.0 1705.5V1704.5H1003.0V1705.5ZM1003.0 1705.5V1703.8H1004.0V1705.5ZM1004.0 1705.5V1705.1H1005.0V1705.5ZM1005.0 1705.5V1703.5H1006.0V1705.5ZM1007.0 1705.5V1705.3H1008.0V1705.5ZM1008.0 1705.5V1704.0H1009.0V1705.5ZM1010.0 1705.5V1705.1H1011.0V1705.5ZM1011.0 1705.5V1703.9H1012.0V1705.5ZM1012.0 1705.5V1704.0H1013.0V1705.5ZM1013.0 1705.5V1705.2H1014.0V1705.5ZM1015.0 1705.5V1705.0H1016.0V1705.5ZM1016.0 1705.5V1704.0H1017.0V1705.5ZM1017.0 1705.5V1705.0H1018.0V1705.5ZM1019.0 1705.5V1704.1H1020.0V1705.5ZM1020.0 1705.5V1704.6H1021.0V1705.5ZM1021.0 1705.5V1703.4H1022.0V1705.5ZM1022.0 1705.5V1703.4H1023.0V1705.5ZM1023.0 1705.5V1703.5H1024.0V1705.5ZM1024.0 1705.5V1704.9H1025.0V1705.5ZM1025.0 1705.5V1703.9H1026.0V1705.5ZM1026.0 1705.5V1705.2H1027.0V1705.5ZM1027.0 1705.5V1705.2H1028.0V1705.5ZM1028.0 1705.5V1705.0H1029.0V1705.5ZM1029.0 1705.5V1703.6H1030.0V1705.5ZM1030.0 1705.5V1703.8H1031.0V1705.5ZM1031.0 1705.5V1705.3H1032.0V1705.5ZM1032.0 1705.5V1705.1H1033.0V1705.5ZM1033.0 1705.5V1705.1H1034.0V1705.5ZM1034.0 1705.5V1705.2H1035.0V1705.5ZM1035.0 1705.5V1705.1H1036.0V1705.5ZM1036.0 1705.5V1705.1H1037.0V1705.5ZM1038.0 1705.5V1704.8H1039.0V1705.5ZM1039.0 1705.5V1704.2H1040.0V1705.5ZM1040.0 1705.5V1704.8H1041.0V1705.5ZM1041.0 1705.5V1704.2H1042.0V1705.5ZM1042.0 1705.5V1704.8H1043.0V1705.5ZM1044.0 1705.5V1704.4H1045.0V1705.5ZM1045.0 1705.5V1704.1H1046.0V1705.5ZM1046.0 1705.5V1705.3H1047.0V1705.5ZM1048.0 1705.5V1705.0H1049.0V1705.5ZM1049.0 1705.5V1704.9H1050.0V1705.5ZM1050.0 1705.5V1704.9H1051.0V1705.5ZM1051.0 1705.5V1704.0H1052.0V1705.5ZM1052.0 1705.5V1704.7H1053.0V1705.5ZM1053.0 1705.5V1704.4H1054.0V1705.5ZM1055.0 1705.5V1704.9H1056.0V1705.5ZM1056.0 1705.5V1704.5H1057.0V1705.5ZM1059.0 1705.5V1704.6H1060.0V1705.5ZM1060.0 1705.5V1704.3H1061.0V1705.5ZM1062.0 1705.5V1704.8H1063.0V1705.5ZM1064.0 1705.5V1704.6H1065.0V1705.5ZM1065.0 1705.5V1704.8H1066.0V1705.5ZM1068.0 1705.5V1704.5H1069.0V1705.5ZM1069.0 1705.5V1705.0H1070.0V1705.5ZM1070.0 1705.5V1704.4H1071.0V1705.5ZM1071.0 1705.5V1705.1H1072.0V1705.5ZM1072.0 1705.5V1705.2H1073.0V1705.5ZM1073.0 1705.5V1703.7H1074.0V1705.5ZM1074.0 1705.5V1704.4H1075.0V1705.5ZM1075.0 1705.5V1704.8H1076.0V1705.5ZM1076.0 1705.5V1704.7H1077.0V1705.5ZM1077.0 1705.5V1704.1H1078.0V1705.5ZM1078.0 1705.5V1704.0H1079.0V1705.5ZM1079.0 1705.5V1703.1H1080.0V1705.5ZM1080.0 1705.5V1704.8H1081.0V1705.5ZM1081.0 1705.5V1703.2H1082.0V1705.5ZM1082.0 1705.5V1703.8H1083.0V1705.5ZM1083.0 1705.5V1702.8H1084.0V1705.5ZM1084.0 1705.5V1702.9H1085.0V1705.5ZM1085.0 1705.5V1702.7H1086.0V1705.5ZM1086.0 1705.5V1702.3H1087.0V1705.5ZM1087.0 1705.5V1701.8H1088.0V1705.5ZM1088.0 1705.5V1703.6H1089.0V1705.5ZM1089.0 1705.5V1704.1H1090.0V1705.5ZM1090.0 1705.5V1703.2H1091.0V1705.5ZM1091.0 1705.5V1702.7H1092.0V1705.5ZM1092.0 1705.5V1704.5H1093.0V1705.5ZM1093.0 1705.5V1704.5H1094.0V1705.5ZM1095.0 1705.5V1703.0H1096.0V1705.5ZM1096.0 1705.5V1701.5H1097.0V1705.5ZM1097.0 1705.5V1704.7H1098.0V1705.5ZM1098.0 1705.5V1705.3H1099.0V1705.5ZM1099.0 1705.5V1705.2H1100.0V1705.5ZM1100.0 1705.5V1704.5H1101.0V1705.5ZM1101.0 1705.5V1704.9H1102.0V1705.5ZM1102.0 1705.5V1701.2H1103.0V1705.5ZM1104.0 1705.5V1704.8H1105.0V1705.5ZM1106.0 1705.5V1703.0H1107.0V1705.5ZM1107.0 1705.5V1702.0H1108.0V1705.5ZM1108.0 1705.5V1705.2H1109.0V1705.5ZM1110.0 1705.5V1703.9H1111.0V1705.5ZM1111.0 1705.5V1703.2H1112.0V1705.5ZM1112.0 1705.5V1700.7H1113.0V1705.5ZM1115.0 1705.5V1705.2H1116.0V1705.5ZM1116.0 1705.5V1705.1H1117.0V1705.5ZM1117.0 1705.5V1705.0H1118.0V1705.5ZM1118.0 1705.5V1702.7H1119.0V1705.5ZM1119.0 1705.5V1703.5H1120.0V1705.5ZM1120.0 1705.5V1705.1H1121.0V1705.5ZM1121.0 1705.5V1705.3H1122.0V1705.5ZM1122.0 1705.5V1705.0H1123.0V1705.5ZM1123.0 1705.5V1705.3H1124.0V1705.5ZM1124.0 1705.5V1703.4H1125.0V1705.5ZM1125.0 1705.5V1705.1H1126.0V1705.5ZM1126.0 1705.5V1704.4H1127.0V1705.5ZM1127.0 1705.5V1703.6H1128.0V1705.5ZM1128.0 1705.5V1704.8H1129.0V1705.5ZM1129.0 1705.5V1705.3H1130.0V1705.5ZM1130.0 1705.5V1703.7H1131.0V1705.5ZM1131.0 1705.5V1703.7H1132.0V1705.5ZM1132.0 1705.5V1705.2H1133.0V1705.5ZM1133.0 1705.5V1704.8H1134.0V1705.5ZM1134.0 1705.5V1703.5H1135.0V1705.5ZM1135.0 1705.5V1704.8H1136.0V1705.5ZM1136.0 1705.5V1705.3H1137.0V1705.5ZM1138.0 1705.5V1702.4H1139.0V1705.5ZM1139.0 1705.5V1702.8H1140.0V1705.5ZM1140.0 1705.5V1704.6H1141.0V1705.5ZM1141.0 1705.5V1703.9H1142.0V1705.5ZM1142.0 1705.5V1703.8H1143.0V1705.5ZM1143.0 1705.5V1704.9H1144.0V1705.5ZM1144.0 1705.5V1700.5H1145.0V1705.5ZM1145.0 1705.5V1703.0H1146.0V1705.5ZM1146.0 1705.5V1705.1H1147.0V1705.5ZM1148.0 1705.5V1704.4H1149.0V1705.5ZM1149.0 1705.5V1704.9H1150.0V1705.5ZM1150.0 1705.5V1703.5H1151.0V1705.5ZM1151.0 1705.5V1704.0H1152.0V1705.5ZM1152.0 1705.5V1704.5H1153.0V1705.5ZM1155.0 1705.5V1705.2H1156.0V1705.5ZM1156.0 1705.5V1705.3H1157.0V1705.5ZM1157.0 1705.5V1703.4H1158.0V1705.5ZM1158.0 1705.5V1704.6H1159.0V1705.5ZM1159.0 1705.5V1704.1H1160.0V1705.5ZM1160.0 1705.5V1702.6H1161.0V1705.5ZM1161.0 1705.5V1705.2H1162.0V1705.5ZM1162.0 1705.5V1704.4H1163.0V1705.5ZM1164.0 1705.5V1703.7H1165.0V1705.5ZM1166.0 1705.5V1703.8H1167.0V1705.5ZM1167.0 1705.5V1703.9H1168.0V1705.5ZM1168.0 1705.5V1704.1H1169.0V1705.5ZM1171.0 1705.5V1704.7H1172.0V1705.5ZM1173.0 1705.5V1705.2H1174.0V1705.5ZM1174.0 1705.5V1705.2H1175.0V1705.5ZM1175.0 1705.5V1704.5H1176.0V1705.5ZM1176.0 1705.5V1705.1H1177.0V1705.5ZM1177.0 1705.5V1704.7H1178.0V1705.5ZM1179.0 1705.5V1704.8H1180.0V1705.5ZM1180.0 1705.5V1705.3H1181.0V1705.5ZM1181.0 1705.5V1704.7H1182.0V1705.5ZM1183.0 1705.5V1704.8H1184.0V1705.5ZM1185.0 1705.5V1705.2H1186.0V1705.5ZM1186.0 1705.5V1705.2H1187.0V1705.5ZM1188.0 1705.5V1704.8H1189.0V1705.5ZM1193.0 1705.5V1705.2H1194.0V1705.5ZM1194.0 1705.5V1705.0H1195.0V1705.5ZM1196.0 1705.5V1705.0H1197.0V1705.5ZM1198.0 1705.5V1705.3H1199.0V1705.5ZM1199.0 1705.5V1705.3H1200.0V1705.5ZM1200.0 1705.5V1704.6H1201.0V1705.5ZM1201.0 1705.5V1704.8H1202.0V1705.5ZM1202.0 1705.5V1705.0H1203.0V1705.5ZM1204.0 1705.5V1705.3H1205.0V1705.5ZM1205.0 1705.5V1705.0H1206.0V1705.5ZM1207.0 1705.5V1705.1H1208.0V1705.5ZM1208.0 1705.5V1705.3H1209.0V1705.5ZM1210.0 1705.5V1704.6H1211.0V1705.5ZM1211.0 1705.5V1704.8H1212.0V1705.5ZM1213.0 1705.5V1705.1H1214.0V1705.5ZM1215.0 1705.5V1705.3H1216.0V1705.5ZM1216.0 1705.5V1705.2H1217.0V1705.5ZM1219.0 1705.5V1705.3H1220.0V1705.5ZM1220.0 1705.5V1705.0H1221.0V1705.5ZM1223.0 1705.5V1704.9H1224.0V1705.5ZM1225.0 1705.5V1704.6H1226.0V1705.5ZM1226.0 1705.5V1705.1H1227.0V1705.5ZM1227.0 1705.5V1704.9H1228.0V1705.5ZM1229.0 1705.5V1704.8H1230.0V1705.5ZM1233.0 1705.5V1705.0H1234.0V1705.5ZM1234.0 1705.5V1705.0H1235.0V1705.5ZM1236.0 1705.5V1705.3H1237.0V1705.5ZM1237.0 1705.5V1704.8H1238.0V1705.5ZM1238.0 1705.5V1705.1H1239.0V1705.5ZM1243.0 1705.5V1705.3H1244.0V1705.5ZM1245.0 1705.5V1704.7H1246.0V1705.5ZM1246.0 1705.5V1705.3H1247.0V1705.5ZM1247.0 1705.5V1705.2H1248.0V1705.5ZM1248.0 1705.5V1705.0H1249.0V1705.5ZM1249.0 1705.5V1704.9H1250.0V1705.5ZM1250.0 1705.5V1704.8H1251.0V1705.5ZM1251.0 1705.5V1705.3H1252.0V1705.5ZM1253.0 1705.5V1705.3H1254.0V1705.5ZM1255.0 1705.5V1705.3H1256.0V1705.5ZM1256.0 1705.5V1705.0H1257.0V1705.5ZM1257.0 1705.5V1704.6H1258.0V1705.5ZM1258.0 1705.5V1704.9H1259.0V1705.5ZM1259.0 1705.5V1705.0H1260.0V1705.5ZM1260.0 1705.5V1705.1H1261.0V1705.5ZM1264.0 1705.5V1705.0H1265.0V1705.5ZM1266.0 1705.5V1705.3H1267.0V1705.5ZM1267.0 1705.5V1705.2H1268.0V1705.5ZM1268.0 1705.5V1704.9H1269.0V1705.5ZM1269.0 1705.5V1704.8H1270.0V1705.5ZM1270.0 1705.5V1705.1H1271.0V1705.5ZM1272.0 1705.5V1704.9H1273.0V1705.5ZM1273.0 1705.5V1704.7H1274.0V1705.5ZM1274.0 1705.5V1705.2H1275.0V1705.5ZM1276.0 1705.5V1705.2H1277.0V1705.5ZM1278.0 1705.5V1705.0H1279.0V1705.5ZM1279.0 1705.5V1704.6H1280.0V1705.5ZM1280.0 1705.5V1705.2H1281.0V1705.5ZM1281.0 1705.5V1705.0H1282.0V1705.5ZM1282.0 1705.5V1704.8H1283.0V1705.5ZM1284.0 1705.5V1704.6H1285.0V1705.5ZM1285.0 1705.5V1705.1H1286.0V1705.5ZM1289.0 1705.5V1705.1H1290.0V1705.5ZM1290.0 1705.5V1705.0H1291.0V1705.5ZM1292.0 1705.5V1704.7H1293.0V1705.5ZM1294.0 1705.5V1705.3H1295.0V1705.5ZM1296.0 1705.5V1704.6H1297.0V1705.5ZM1298.0 1705.5V1704.7H1299.0V1705.5ZM1299.0 1705.5V1702.7H1300.0V1705.5ZM1300.0 1705.5V1702.7H1301.0V1705.5ZM1301.0 1705.5V1702.9H1302.0V1705.5ZM1302.0 1705.5V1704.8H1303.0V1705.5ZM1303.0 1705.5V1700.6H1304.0V1705.5ZM1304.0 1705.5V1700.2H1305.0V1705.5ZM1305.0 1705.5V1701.8H1306.0V1705.5ZM1306.0 1705.5V1703.4H1307.0V1705.5ZM1308.0 1705.5V1702.4H1309.0V1705.5ZM1309.0 1705.5V1705.0H1310.0V1705.5ZM1310.0 1705.5V1702.4H1311.0V1705.5ZM1311.0 1705.5V1705.2H1312.0V1705.5ZM1312.0 1705.5V1704.2H1313.0V1705.5ZM1313.0 1705.5V1703.2H1314.0V1705.5ZM1314.0 1705.5V1705.3H1315.0V1705.5ZM1315.0 1705.5V1704.4H1316.0V1705.5ZM1319.0 1705.5V1703.2H1320.0V1705.5ZM1320.0 1705.5V1703.5H1321.0V1705.5ZM1321.0 1705.5V1704.4H1322.0V1705.5ZM1322.0 1705.5V1705.2H1323.0V1705.5ZM1323.0 1705.5V1704.5H1324.0V1705.5ZM1324.0 1705.5V1704.4H1325.0V1705.5ZM1325.0 1705.5V1705.2H1326.0V1705.5ZM1326.0 1705.5V1704.8H1327.0V1705.5ZM1327.0 1705.5V1704.3H1328.0V1705.5ZM1330.0 1705.5V1705.1H1331.0V1705.5ZM1332.0 1705.5V1705.2H1333.0V1705.5ZM1333.0 1705.5V1705.0H1334.0V1705.5ZM1335.0 1705.5V1705.1H1336.0V1705.5ZM1337.0 1705.5V1705.0H1338.0V1705.5ZM1338.0 1705.5V1705.3H1339.0V1705.5ZM1339.0 1705.5V1704.9H1340.0V1705.5ZM1341.0 1705.5V1704.9H1342.0V1705.5ZM1343.0 1705.5V1704.4H1344.0V1705.5ZM1344.0 1705.5V1705.0H1345.0V1705.5ZM1345.0 1705.5V1705.2H1346.0V1705.5ZM1346.0 1705.5V1705.3H1347.0V1705.5ZM1347.0 1705.5V1705.0H1348.0V1705.5ZM1348.0 1705.5V1704.9H1349.0V1705.5ZM1349.0 1705.5V1704.8H1350.0V1705.5ZM1350.0 1705.5V1704.8H1351.0V1705.5ZM1351.0 1705.5V1705.2H1352.0V1705.5ZM1352.0 1705.5V1704.5H1353.0V1705.5ZM1353.0 1705.5V1704.7H1354.0V1705.5ZM1354.0 1705.5V1704.7H1355.0V1705.5ZM1355.0 1705.5V1705.3H1356.0V1705.5ZM1356.0 1705.5V1705.3H1357.0V1705.5ZM1357.0 1705.5V1705.1H1358.0V1705.5ZM1358.0 1705.5V1704.6H1359.0V1705.5ZM1359.0 1705.5V1705.2H1360.0V1705.5ZM1360.0 1705.5V1705.2H1361.0V1705.5ZM1361.0 1705.5V1705.3H1362.0V1705.5ZM1362.0 1705.5V1704.7H1363.0V1705.5ZM1365.0 1705.5V1704.9H1366.0V1705.5ZM1366.0 1705.5V1704.7H1367.0V1705.5ZM1367.0 1705.5V1704.9H1368.0V1705.5ZM1368.0 1705.5V1705.1H1369.0V1705.5ZM1369.0 1705.5V1704.9H1370.0V1705.5ZM1371.0 1705.5V1705.1H1372.0V1705.5ZM1374.0 1705.5V1705.3H1375.0V1705.5ZM1375.0 1705.5V1705.2H1376.0V1705.5ZM1376.0 1705.5V1705.3H1377.0V1705.5ZM1378.0 1705.5V1704.9H1379.0V1705.5ZM1379.0 1705.5V1705.1H1380.0V1705.5ZM1382.0 1705.5V1705.3H1383.0V1705.5ZM1385.0 1705.5V1704.3H1386.0V1705.5ZM1386.0 1705.5V1704.1H1387.0V1705.5ZM1387.0 1705.5V1704.7H1388.0V1705.5ZM1388.0 1705.5V1704.2H1389.0V1705.5ZM1389.0 1705.5V1705.1H1390.0V1705.5ZM1390.0 1705.5V1704.2H1391.0V1705.5ZM1392.0 1705.5V1704.3H1393.0V1705.5ZM1393.0 1705.5V1704.7H1394.0V1705.5ZM1394.0 1705.5V1703.7H1395.0V1705.5ZM1396.0 1705.5V1704.0H1397.0V1705.5ZM1398.0 1705.5V1704.7H1399.0V1705.5ZM1399.0 1705.5V1703.4H1400.0V1705.5ZM1401.0 1705.5V1705.3H1402.0V1705.5ZM1402.0 1705.5V1705.2H1403.0V1705.5ZM1403.0 1705.5V1705.2H1404.0V1705.5ZM1405.0 1705.5V1704.0H1406.0V1705.5ZM1406.0 1705.5V1704.2H1407.0V1705.5ZM1407.0 1705.5V1705.2H1408.0V1705.5ZM1408.0 1705.5V1705.2H1409.0V1705.5ZM1409.0 1705.5V1704.9H1410.0V1705.5ZM1412.0 1705.5V1704.4H1413.0V1705.5ZM1414.0 1705.5V1705.2H1415.0V1705.5ZM1415.0 1705.5V1704.5H1416.0V1705.5ZM1416.0 1705.5V1704.4H1417.0V1705.5ZM1417.0 1705.5V1705.2H1418.0V1705.5ZM1420.0 1705.5V1704.6H1421.0V1705.5ZM1421.0 1705.5V1704.6H1422.0V1705.5ZM1423.0 1705.5V1704.7H1424.0V1705.5ZM1424.0 1705.5V1705.3H1425.0V1705.5ZM1425.0 1705.5V1705.2H1426.0V1705.5ZM1427.0 1705.5V1704.5H1428.0V1705.5ZM1428.0 1705.5V1704.3H1429.0V1705.5ZM1430.0 1705.5V1704.9H1431.0V1705.5ZM1432.0 1705.5V1704.3H1433.0V1705.5ZM1435.0 1705.5V1704.5H1436.0V1705.5ZM1436.0 1705.5V1705.3H1437.0V1705.5ZM1437.0 1705.5V1704.0H1438.0V1705.5ZM1438.0 1705.5V1704.0H1439.0V1705.5ZM1439.0 1705.5V1704.4H1440.0V1705.5ZM1441.0 1705.5V1704.4H1442.0V1705.5ZM1442.0 1705.5V1703.6H1443.0V1705.5ZM1443.0 1705.5V1704.9H1444.0V1705.5ZM1445.0 1705.5V1705.3H1446.0V1705.5ZM1446.0 1705.5V1705.2H1447.0V1705.5ZM1447.0 1705.5V1704.2H1448.0V1705.5ZM1450.0 1705.5V1705.3H1451.0V1705.5ZM1451.0 1705.5V1704.4H1452.0V1705.5ZM1452.0 1705.5V1704.1H1453.0V1705.5ZM1453.0 1705.5V1705.1H1454.0V1705.5ZM1454.0 1705.5V1704.5H1455.0V1705.5ZM1455.0 1705.5V1703.9H1456.0V1705.5ZM1456.0 1705.5V1704.7H1457.0V1705.5ZM1458.0 1705.5V1705.3H1459.0V1705.5ZM1459.0 1705.5V1704.0H1460.0V1705.5ZM1460.0 1705.5V1704.7H1461.0V1705.5ZM1461.0 1705.5V1705.3H1462.0V1705.5ZM1462.0 1705.5V1704.8H1463.0V1705.5ZM1464.0 1705.5V1704.2H1465.0V1705.5ZM1465.0 1705.5V1705.2H1466.0V1705.5ZM1466.0 1705.5V1705.1H1467.0V1705.5ZM1467.0 1705.5V1705.1H1468.0V1705.5ZM1469.0 1705.5V1705.0H1470.0V1705.5ZM1472.0 1705.5V1704.8H1473.0V1705.5ZM1475.0 1705.5V1704.9H1476.0V1705.5ZM1478.0 1705.5V1705.2H1479.0V1705.5ZM1480.0 1705.5V1704.7H1481.0V1705.5ZM1481.0 1705.5V1704.6H1482.0V1705.5ZM1483.0 1705.5V1705.3H1484.0V1705.5ZM1484.0 1705.5V1704.9H1485.0V1705.5ZM1485.0 1705.5V1705.3H1486.0V1705.5ZM1486.0 1705.5V1704.7H1487.0V1705.5ZM1487.0 1705.5V1705.2H1488.0V1705.5ZM1489.0 1705.5V1705.2H1490.0V1705.5ZM1490.0 1705.5V1705.1H1491.0V1705.5ZM1492.0 1705.5V1705.0H1493.0V1705.5ZM1493.0 1705.5V1704.9H1494.0V1705.5ZM1494.0 1705.5V1705.2H1495.0V1705.5ZM1495.0 1705.5V1705.2H1496.0V1705.5ZM1496.0 1705.5V1704.8H1497.0V1705.5ZM1497.0 1705.5V1705.0H1498.0V1705.5ZM1498.0 1705.5V1705.2H1499.0V1705.5ZM1499.0 1705.5V1704.6H1500.0V1705.5ZM1501.0 1705.5V1704.9H1502.0V1705.5ZM1503.0 1705.5V1705.1H1504.0V1705.5ZM1505.0 1705.5V1705.3H1506.0V1705.5ZM1506.0 1705.5V1704.9H1507.0V1705.5ZM1507.0 1705.5V1704.9H1508.0V1705.5ZM1508.0 1705.5V1704.9H1509.0V1705.5ZM1510.0 1705.5V1705.2H1511.0V1705.5ZM1512.0 1705.5V1705.1H1513.0V1705.5ZM1513.0 1705.5V1705.2H1514.0V1705.5ZM1515.0 1705.5V1705.1H1516.0V1705.5ZM1516.0 1705.5V1705.0H1517.0V1705.5ZM1517.0 1705.5V1705.1H1518.0V1705.5ZM1518.0 1705.5V1704.7H1519.0V1705.5ZM1522.0 1705.5V1705.2H1523.0V1705.5ZM1523.0 1705.5V1705.3H1524.0V1705.5ZM1524.0 1705.5V1705.3H1525.0V1705.5ZM1526.0 1705.5V1704.9H1527.0V1705.5ZM1528.0 1705.5V1704.7H1529.0V1705.5ZM1529.0 1705.5V1705.1H1530.0V1705.5ZM1530.0 1705.5V1705.2H1531.0V1705.5ZM1531.0 1705.5V1704.9H1532.0V1705.5ZM1537.0 1705.5V1705.1H1538.0V1705.5ZM1538.0 1705.5V1705.2H1539.0V1705.5ZM1540.0 1705.5V1705.1H1541.0V1705.5ZM1542.0 1705.5V1704.8H1543.0V1705.5ZM1546.0 1705.5V1705.0H1547.0V1705.5ZM1547.0 1705.5V1704.8H1548.0V1705.5ZM1548.0 1705.5V1704.9H1549.0V1705.5ZM1550.0 1705.5V1705.3H1551.0V1705.5ZM1553.0 1705.5V1704.6H1554.0V1705.5ZM1555.0 1705.5V1705.2H1556.0V1705.5ZM1556.0 1705.5V1704.9H1557.0V1705.5ZM1557.0 1705.5V1704.6H1558.0V1705.5ZM1559.0 1705.5V1705.3H1560.0V1705.5ZM1560.0 1705.5V1704.9H1561.0V1705.5ZM1563.0 1705.5V1704.7H1564.0V1705.5ZM1565.0 1705.5V1705.3H1566.0V1705.5ZM1567.0 1705.5V1705.3H1568.0V1705.5ZM1570.0 1705.5V1704.6H1571.0V1705.5ZM1571.0 1705.5V1704.9H1572.0V1705.5ZM1572.0 1705.5V1704.9H1573.0V1705.5ZM1575.0 1705.5V1705.2H1576.0V1705.5ZM1577.0 1705.5V1705.3H1578.0V1705.5ZM1578.0 1705.5V1704.7H1579.0V1705.5ZM1581.0 1705.5V1704.6H1582.0V1705.5ZM1582.0 1705.5V1705.1H1583.0V1705.5ZM1584.0 1705.5V1705.3H1585.0V1705.5ZM1585.0 1705.5V1705.0H1586.0V1705.5ZM1588.0 1705.5V1705.0H1589.0V1705.5ZM1589.0 1705.5V1704.8H1590.0V1705.5ZM1590.0 1705.5V1705.1H1591.0V1705.5ZM1591.0 1705.5V1704.7H1592.0V1705.5ZM1592.0 1705.5V1705.3H1593.0V1705.5ZM1593.0 1705.5V1705.3H1594.0V1705.5ZM1594.0 1705.5V1704.8H1595.0V1705.5ZM1595.0 1705.5V1705.3H1596.0V1705.5ZM1596.0 1705.5V1704.8H1597.0V1705.5ZM1598.0 1705.5V1705.3H1599.0V1705.5ZM1600.0 1705.5V1704.9H1601.0V1705.5ZM1604.0 1705.5V1704.8H1605.0V1705.5ZM1605.0 1705.5V1705.2H1606.0V1705.5ZM1606.0 1705.5V1704.8H1607.0V1705.5ZM1607.0 1705.5V1703.1H1608.0V1705.5ZM1608.0 1705.5V1704.3H1609.0V1705.5ZM1609.0 1705.5V1703.8H1610.0V1705.5ZM1611.0 1705.5V1705.2H1612.0V1705.5ZM1613.0 1705.5V1704.8H1614.0V1705.5ZM1614.0 1705.5V1705.3H1615.0V1705.5ZM1619.0 1705.5V1705.3H1620.0V1705.5ZM1620.0 1705.5V1704.7H1621.0V1705.5ZM1621.0 1705.5V1705.0H1622.0V1705.5ZM1625.0 1705.5V1704.6H1626.0V1705.5ZM1627.0 1705.5V1704.9H1628.0V1705.5ZM1628.0 1705.5V1705.0H1629.0V1705.5ZM1629.0 1705.5V1704.7H1630.0V1705.5ZM1632.0 1705.5V1705.3H1633.0V1705.5ZM1634.0 1705.5V1704.7H1635.0V1705.5ZM1636.0 1705.5V1704.9H1637.0V1705.5ZM1637.0 1705.5V1705.2H1638.0V1705.5ZM1639.0 1705.5V1705.3H1640.0V1705.5ZM1643.0 1705.5V1705.1H1644.0V1705.5ZM1646.0 1705.5V1705.3H1647.0V1705.5ZM1647.0 1705.5V1705.2H1648.0V1705.5ZM1649.0 1705.5V1705.0H1650.0V1705.5ZM1651.0 1705.5V1705.0H1652.0V1705.5ZM1652.0 1705.5V1705.0H1653.0V1705.5ZM1656.0 1705.5V1705.0H1657.0V1705.5ZM1657.0 1705.5V1705.3H1658.0V1705.5ZM1658.0 1705.5V1705.3H1659.0V1705.5ZM1659.0 1705.5V1704.8H1660.0V1705.5ZM1666.0 1705.5V1705.1H1667.0V1705.5ZM1667.0 1705.5V1705.1H1668.0V1705.5ZM1668.0 1705.5V1704.8H1669.0V1705.5ZM1669.0 1705.5V1704.6H1670.0V1705.5ZM1671.0 1705.5V1705.0H1672.0V1705.5ZM1672.0 1705.5V1704.7H1673.0V1705.5ZM1674.0 1705.5V1705.0H1675.0V1705.5ZM1675.0 1705.5V1705.0H1676.0V1705.5ZM1676.0 1705.5V1704.6H1677.0V1705.5ZM1677.0 1705.5V1704.8H1678.0V1705.5ZM1679.0 1705.5V1705.1H1680.0V1705.5ZM1681.0 1705.5V1705.3H1682.0V1705.5ZM1682.0 1705.5V1705.3H1683.0V1705.5ZM1684.0 1705.5V1705.3H1685.0V1705.5ZM1686.0 1705.5V1705.2H1687.0V1705.5ZM1689.0 1705.5V1705.3H1690.0V1705.5ZM1690.0 1705.5V1705.2H1691.0V1705.5ZM1692.0 1705.5V1705.0H1693.0V1705.5ZM1696.0 1705.5V1705.3H1697.0V1705.5ZM1698.0 1705.5V1705.1H1699.0V1705.5ZM1699.0 1705.5V1705.0H1700.0V1705.5ZM1700.0 1705.5V1705.2H1701.0V1705.5ZM1701.0 1705.5V1705.0H1702.0V1705.5ZM1703.0 1705.5V1705.3H1704.0V1705.5ZM1706.0 1705.5V1705.3H1707.0V1705.5ZM1708.0 1705.5V1705.2H1709.0V1705.5ZM1709.0 1705.5V1705.1H1710.0V1705.5ZM1710.0 1705.5V1705.3H1711.0V1705.5ZM1715.0 1705.5V1704.7H1716.0V1705.5ZM1716.0 1705.5V1705.1H1717.0V1705.5ZM1718.0 1705.5V1705.0H1719.0V1705.5ZM1720.0 1705.5V1705.3H1721.0V1705.5ZM1721.0 1705.5V1705.1H1722.0V1705.5ZM1722.0 1705.5V1704.6H1723.0V1705.5ZM1724.0 1705.5V1705.1H1725.0V1705.5ZM1725.0 1705.5V1704.6H1726.0V1705.5ZM1726.0 1705.5V1704.9H1727.0V1705.5ZM1727.0 1705.5V1705.1H1728.0V1705.5ZM1728.0 1705.5V1705.1H1729.0V1705.5ZM1729.0 1705.5V1705.3H1730.0V1705.5ZM1730.0 1705.5V1705.3H1731.0V1705.5ZM1732.0 1705.5V1704.8H1733.0V1705.5ZM1733.0 1705.5V1704.7H1734.0V1705.5ZM1734.0 1705.5V1705.3H1735.0V1705.5ZM1735.0 1705.5V1704.7H1736.0V1705.5ZM1738.0 1705.5V1705.2H1739.0V1705.5ZM1741.0 1705.5V1704.6H1742.0V1705.5ZM1745.0 1705.5V1705.0H1746.0V1705.5ZM1748.0 1705.5V1705.2H1749.0V1705.5ZM1749.0 1705.5V1705.3H1750.0V1705.5ZM1751.0 1705.5V1705.2H1752.0V1705.5ZM1752.0 1705.5V1705.0H1753.0V1705.5ZM1753.0 1705.5V1705.2H1754.0V1705.5ZM1754.0 1705.5V1705.1H1755.0V1705.5ZM1755.0 1705.5V1705.2H1756.0V1705.5ZM1756.0 1705.5V1704.8H1757.0V1705.5ZM1757.0 1705.5V1704.6H1758.0V1705.5ZM1760.0 1705.5V1704.7H1761.0V1705.5ZM1762.0 1705.5V1705.0H1763.0V1705.5ZM1763.0 1705.5V1705.0H1764.0V1705.5ZM1764.0 1705.5V1705.0H1765.0V1705.5ZM1765.0 1705.5V1704.6H1766.0V1705.5ZM1766.0 1705.5V1704.8H1767.0V1705.5ZM1768.0 1705.5V1705.1H1769.0V1705.5ZM1769.0 1705.5V1705.2H1770.0V1705.5ZM1770.0 1705.5V1705.2H1771.0V1705.5ZM981.2 1705.5V1104.7H983.2V1705.5ZM983.2 1705.5V1653.2H985.8V1705.5ZM985.8 1705.5V1684.8H987.3V1705.5ZM987.3 1705.5V1527.4H988.9V1705.5ZM988.8 1705.5V1692.5H990.1V1705.5ZM990.1 1705.5V1675.5H993.9V1705.5ZM993.9 1705.5V1698.6H995.8V1705.5ZM995.8 1705.5V1691.2H998.8V1705.5ZM998.8 1705.5V1702.0H1003.5V1705.5ZM1003.5 1705.5V1702.6H1008.8V1705.5ZM1006.5 1705.5V1701.2H1008.8V1705.5ZM1017.3 1705.5V1703.5H1022.7V1705.5ZM1028.8 1705.5V1703.2H1030.8V1705.5ZM1033.9 1705.5V1702.2H1035.8V1705.5ZM1056.1 1705.5V1694.3H1058.8V1705.5ZM1060.4 1705.5V1702.5H1063.5V1705.5ZM1081.2 1705.5V1688.6H1083.8V1705.5ZM1086.5 1705.5V1701.4H1088.8V1705.5ZM1093.0 1705.5V1699.4H1095.0V1705.5ZM1097.6 1705.5V1699.4H1100.1V1705.5ZM1103.5 1705.5V1701.7H1106.5V1705.5ZM1106.8 1705.5V1694.3H1108.8V1705.5ZM1108.8 1705.5V1697.9H1111.9V1705.5ZM1111.9 1705.5V1700.9H1117.3V1705.5ZM1117.8 1705.5V1696.3H1119.6V1705.5ZM1119.6 1705.5V1702.0H1131.2V1705.5ZM1135.8 1705.5V1700.2H1137.3V1705.5ZM1138.8 1705.5V1691.2H1140.8V1705.5ZM1142.7 1705.5V1697.1H1144.2V1705.5ZM1144.2 1705.5V1688.2H1146.1V1705.5ZM1148.8 1705.5V1700.2H1151.2V1705.5ZM1288.3 1705.5V1700.8H1290.0V1705.5ZM1291.0 1705.5V1646.5H1293.0V1705.5ZM1293.0 1705.5V1684.5H1294.2V1705.5ZM1294.2 1705.5V1697.8H1297.0V1705.5ZM1297.0 1705.5V1683.7H1299.2V1705.5ZM1299.2 1705.5V1697.8H1300.8V1705.5ZM1300.8 1705.5V1686.2H1302.8V1705.5ZM1302.8 1705.5V1702.0H1305.8V1705.5ZM1305.8 1705.5V1698.7H1308.3V1705.5ZM1308.3 1705.5V1703.3H1315.0V1705.5ZM1584.0 1705.5V1698.8H1586.0V1705.5ZM1589.5 1705.5V1704.0H1592.0V1705.5ZM1601.2 1705.5V1697.6H1603.0V1705.5ZM1603.0 1705.5V1701.5H1604.0V1705.5ZM1607.0 1705.5V1702.8H1609.3V1705.5ZM1611.0 1705.5V1702.8H1612.6V1705.5ZM1612.6 1705.5V1704.3H1619.0V1705.5Z" fill="#ff0000" shape-rendering="crispEdges"/>
<line x1="860.60" y1="974.95" x2="860.60" y2="1715.75" stroke="#000" stroke-width="3.0" />
<line x1="844.40" y1="1706.95" x2="1847.55" y2="1706.95" stroke="#000" stroke-width="3.0" />
<line x1="844.40" y1="1706.95" x2="860.60" y2="1706.95" stroke="#000" stroke-width="2.7" />
<line x1="844.40" y1="1560.82" x2="860.60" y2="1560.82" stroke="#000" stroke-width="2.7" />
<line x1="844.40" y1="1414.69" x2="860.60" y2="1414.69" stroke="#000" stroke-width="2.7" />
<line x1="844.40" y1="1268.56" x2="860.60" y2="1268.56" stroke="#000" stroke-width="2.7" />
<line x1="844.40" y1="1122.43" x2="860.60" y2="1122.43" stroke="#000" stroke-width="2.7" />
<line x1="844.40" y1="976.30" x2="860.60" y2="976.30" stroke="#000" stroke-width="2.7" />
<line x1="851.80" y1="1633.88" x2="860.60" y2="1633.88" stroke="#000" stroke-width="2.7" />
<line x1="851.80" y1="1487.76" x2="860.60" y2="1487.76" stroke="#000" stroke-width="2.7" />
<line x1="851.80" y1="1341.62" x2="860.60" y2="1341.62" stroke="#000" stroke-width="2.7" />
<line x1="851.80" y1="1195.49" x2="860.60" y2="1195.49" stroke="#000" stroke-width="2.7" />
<line x1="851.80" y1="1049.36" x2="860.60" y2="1049.36" stroke="#000" stroke-width="2.7" />
<line x1="959.20" y1="1706.95" x2="959.20" y2="1723.15" stroke="#000" stroke-width="2.7" />
<line x1="1156.30" y1="1706.95" x2="1156.30" y2="1723.15" stroke="#000" stroke-width="2.7" />
<line x1="1353.40" y1="1706.95" x2="1353.40" y2="1723.15" stroke="#000" stroke-width="2.7" />
<line x1="1550.50" y1="1706.95" x2="1550.50" y2="1723.15" stroke="#000" stroke-width="2.7" />
<line x1="1747.60" y1="1706.95" x2="1747.60" y2="1723.15" stroke="#000" stroke-width="2.7" />
<line x1="1057.75" y1="1706.95" x2="1057.75" y2="1715.75" stroke="#000" stroke-width="2.7" />
<line x1="1254.85" y1="1706.95" x2="1254.85" y2="1715.75" stroke="#000" stroke-width="2.7" />
<line x1="1451.95" y1="1706.95" x2="1451.95" y2="1715.75" stroke="#000" stroke-width="2.7" />
<line x1="1649.05" y1="1706.95" x2="1649.05" y2="1715.75" stroke="#000" stroke-width="2.7" />
<line x1="1846.15" y1="1706.95" x2="1846.15" y2="1715.75" stroke="#000" stroke-width="2.7" />
<line x1="862.00" y1="1706.85" x2="1847.50" y2="1706.85" stroke="#000" stroke-width="4.0" />
<line x1="882.00" y1="1707.05" x2="1771.00" y2="1707.05" stroke="#ff0000" stroke-width="2.0" shape-rendering="crispEdges"/>
<text transform="translate(836.11,1716.05) scale(1.0111,1)" font-size="30.42" text-anchor="end">0</text>
<text transform="translate(836.11,1569.92) scale(1.0111,1)" font-size="30.42" text-anchor="end">1,000,000</text>
<text transform="translate(836.11,1423.79) scale(1.0111,1)" font-size="30.42" text-anchor="end">2,000,000</text>
<text transform="translate(836.11,1277.66) scale(1.0111,1)" font-size="30.42" text-anchor="end">3,000,000</text>
<text transform="translate(836.11,1131.53) scale(1.0111,1)" font-size="30.42" text-anchor="end">4,000,000</text>
<text transform="translate(836.11,985.40) scale(1.0111,1)" font-size="30.42" text-anchor="end">5,000,000</text>
<text transform="translate(958.90,1755.70) scale(1.0332,1)" font-size="29.86" text-anchor="middle">16,000</text>
<text transform="translate(1156.00,1755.70) scale(1.0332,1)" font-size="29.86" text-anchor="middle">18,000</text>
<text transform="translate(1353.10,1755.70) scale(1.0332,1)" font-size="29.86" text-anchor="middle">20,000</text>
<text transform="translate(1550.20,1755.70) scale(1.0332,1)" font-size="29.86" text-anchor="middle">22,000</text>
<text transform="translate(1747.30,1755.70) scale(1.0332,1)" font-size="29.86" text-anchor="middle">24,000</text>
<text transform="translate(608.52,993.45) scale(1.0618,1)" font-size="74.91">c</text>
<text transform="translate(670.80,1412.59) rotate(-90) scale(0.9757,1)" font-size="38.55">Intensity</text>
<text transform="translate(1213.99,1813.20) scale(0.9791,1)" font-size="34.64">Frequency (cm</text>
<text transform="translate(1441.06,1797.00) scale(1.0088,1)" font-size="20.72">-1</text>
<text transform="translate(1460.63,1812.49) scale(1.0065,1)" font-size="33.37">)</text>
<text transform="translate(1008.99,1002.00) scale(0.9391,1)" font-size="50.72">FCHT</text>
<text transform="translate(961.32,1080.92) scale(0.9663,1)" font-size="38.17">0-0</text>
<text transform="translate(1269.72,1634.80) scale(0.9998,1)" font-size="38.00">(216</text>
<text transform="translate(1345.90,1615.70) scale(1.1550,1)" font-size="23.04">1</text>
<text transform="translate(1358.90,1634.42) scale(0.9901,1)" font-size="38.00">15</text>
<text transform="translate(1400.96,1615.70) scale(1.0890,1)" font-size="23.04">1</text>
<text transform="translate(1416.04,1634.53) scale(0.8668,1)" font-size="37.01">)</text>
<rect x="1243.2" y="997.2" width="556.5" height="485.4" fill="#fff" stroke="#000" stroke-width="2.1"/>
<polyline points="1244.1,1415.9 1244.8,1458.2 1245.7,1476.9 1248.8,1478.7 1262.4,1478.7 1265.8,1476.3 1267.9,1469.2 1270.6,1450.5 1273.3,1432.9 1276.0,1450.5 1278.1,1467.0 1279.7,1475.2 1283.5,1476.9 1287.6,1478.5 1293.0,1478.7 1295.7,1476.9 1297.8,1469.2 1299.8,1445.0 1301.4,1414.2 1302.5,1383.5 1303.5,1371.9 1304.8,1383.5 1306.6,1403.2 1308.0,1425.2 1309.3,1450.5 1310.7,1465.9 1313.4,1475.8 1316.8,1473.0 1320.2,1475.8 1324.3,1478.7 1335.2,1478.7 1338.5,1476.9 1341.3,1470.3 1343.3,1450.5 1344.7,1425.2 1346.0,1397.8 1347.7,1374.7 1350.1,1361.3 1351.2,1370.3 1352.1,1392.3 1353.5,1414.2 1354.9,1441.7 1356.2,1463.7 1357.6,1475.8 1360.3,1478.7 1363.7,1478.7 1367.8,1476.9 1371.2,1471.9 1374.6,1471.9 1377.3,1475.8 1380.0,1476.9 1383.4,1473.0 1391.6,1473.4 1393.6,1460.4 1395.6,1447.2 1398.1,1434.6 1400.4,1447.2 1402.4,1462.6 1404.5,1475.8 1406.5,1478.0 1409.9,1478.5 1412.6,1475.8 1417.4,1466.8 1419.1,1467.0 1421.0,1471.4 1422.8,1462.6 1424.6,1441.7 1425.5,1403.2 1426.6,1348.3 1426.8,1297.0 1427.8,1243.2 1428.7,1185.0 1430.3,1152.3 1431.3,1127.5 1431.9,1084.0 1432.5,1127.5 1433.4,1152.3 1434.1,1185.0 1435.0,1243.2 1435.6,1297.0 1436.4,1348.3 1437.4,1403.2 1438.2,1441.7 1438.9,1458.2 1441.6,1469.7 1442.8,1458.2 1444.6,1439.5 1448.6,1429.6 1449.6,1434.0 1451.4,1450.5 1453.4,1467.0 1455.8,1477.1 1458.8,1477.1 1462.9,1469.2 1465.6,1462.6 1469.4,1461.5 1471.7,1468.1 1475.1,1477.7 1480.6,1477.7 1481.9,1476.5 1488.0,1476.3 1490.8,1471.4 1493.5,1462.6 1495.5,1453.8 1499.3,1447.2 1501.6,1454.9 1503.7,1462.6 1505.7,1471.6 1507.8,1471.6 1512.5,1468.6 1515.9,1471.4 1519.3,1475.2 1521.6,1473.0 1523.7,1458.2 1525.7,1436.2 1527.7,1418.6 1529.8,1408.2 1531.1,1419.7 1532.5,1436.2 1533.8,1441.7 1536.6,1432.9 1539.7,1421.7 1542.0,1428.5 1544.7,1438.4 1546.8,1446.1 1548.8,1461.5 1550.8,1470.3 1553.1,1476.0 1555.6,1467.0 1557.6,1456.0 1559.9,1444.5 1562.4,1450.5 1565.8,1457.1 1570.5,1462.0 1572.6,1469.7 1573.9,1473.0 1577.3,1475.2 1582.8,1475.8 1587.1,1474.1 1588.9,1467.0 1590.9,1456.0 1593.6,1445.6 1595.7,1452.7 1597.7,1462.6 1600.4,1473.6 1603.8,1475.2 1606.6,1471.9 1610.0,1467.5 1612.0,1467.9 1614.7,1471.4 1617.4,1475.8 1620.1,1471.4 1621.5,1462.6 1622.9,1442.8 1624.9,1425.2 1627.6,1409.8 1629.0,1423.0 1630.3,1441.7 1631.7,1457.1 1634.1,1472.5 1637.1,1469.2 1639.2,1461.5 1641.2,1451.6 1644.6,1452.7 1646.0,1460.4 1648.0,1470.3 1651.4,1473.0 1657.5,1473.4 1660.2,1472.8 1663.6,1473.6 1668.1,1476.9 1671.1,1475.2 1675.2,1474.1 1677.9,1474.5 1681.3,1475.8 1686.1,1475.5 1691.5,1471.4 1694.2,1472.5 1698.3,1474.1 1701.0,1474.1 1704.4,1473.0 1708.5,1473.0 1711.9,1474.7 1715.3,1475.5 1718.7,1469.2 1721.4,1461.5 1723.4,1460.4 1726.2,1460.9 1728.9,1468.1 1731.6,1462.6 1733.6,1456.0 1735.9,1452.7 1739.1,1458.2 1741.1,1464.8 1743.1,1470.3 1745.9,1475.8 1748.6,1476.9 1752.0,1472.5 1754.7,1464.8 1756.7,1456.0 1758.8,1447.2 1762.6,1445.0 1763.9,1451.6 1765.6,1462.6 1766.9,1469.2 1769.0,1474.7 1773.7,1475.8 1776.4,1477.4 1779.2,1478.0 1781.9,1476.6 1784.6,1471.9 1787.3,1469.7 1790.0,1470.3 1792.8,1473.6 1795.5,1475.5 1798.2,1474.7" fill="none" stroke="#ff0000" stroke-width="2.0" stroke-linejoin="round" />
<line x1="1293.30" y1="1482.60" x2="1293.30" y2="1491.10" stroke="#000" stroke-width="2.1" />
<line x1="1462.30" y1="1482.60" x2="1462.30" y2="1491.10" stroke="#000" stroke-width="2.1" />
<line x1="1631.30" y1="1482.60" x2="1631.30" y2="1491.10" stroke="#000" stroke-width="2.1" />
<line x1="1800.30" y1="1482.60" x2="1800.30" y2="1491.10" stroke="#000" stroke-width="2.1" />
<line x1="1377.80" y1="1482.60" x2="1377.80" y2="1487.60" stroke="#000" stroke-width="2.1" />
<line x1="1546.80" y1="1482.60" x2="1546.80" y2="1487.60" stroke="#000" stroke-width="2.1" />
<line x1="1715.80" y1="1482.60" x2="1715.80" y2="1487.60" stroke="#000" stroke-width="2.1" />
<text transform="translate(1294.50,1517.24) scale(1.0720,1)" font-size="25.77" text-anchor="middle">16,250</text>
<text transform="translate(1463.50,1517.24) scale(1.0720,1)" font-size="25.77" text-anchor="middle">16,300</text>
<text transform="translate(1632.50,1517.24) scale(1.0720,1)" font-size="25.77" text-anchor="middle">16,350</text>
<text transform="translate(1801.50,1517.24) scale(1.0720,1)" font-size="25.77" text-anchor="middle">16,400</text>
<text transform="translate(1407.59,1070.00) scale(0.9916,1)" font-size="34.35">11</text>
<text transform="translate(1445.43,1052.50) scale(1.1619,1)" font-size="20.29">1</text>
<text transform="translate(1340.95,1240.46) scale(1.0897,1)" font-size="33.94">6</text>
<text transform="translate(1360.65,1224.20) scale(1.1825,1)" font-size="20.58">1</text>
<text transform="translate(1294.35,1269.65) scale(1.0494,1)" font-size="34.51">3</text>
<text transform="translate(1313.94,1253.30) scale(1.0243,1)" font-size="21.16">1</text>
<line x1="1351.50" y1="1266.70" x2="1351.50" y2="1350.50" stroke="#000" stroke-width="1.2" />
<path d="M1351.5 1257.2 L1348.1 1268.7 L1354.9 1268.7 Z" fill="#000"/>
<line x1="1304.50" y1="1292.80" x2="1304.50" y2="1358.30" stroke="#000" stroke-width="1.2" />
<path d="M1304.5 1283.3 L1301.1 1294.8 L1307.9 1294.8 Z" fill="#000"/>
<polyline points="1587.3,789.5 1587.5,772.5 1587.8,789.5 1588.0,766.1 1588.2,789.5 1588.4,773.9 1588.7,789.5 1588.9,778.3 1589.1,789.5 1589.3,778.6 1589.6,789.5 1589.8,769.5 1590.0,789.5 1590.2,777.7 1590.5,789.5 1590.7,779.1 1590.9,789.5 1591.1,752.2 1591.4,789.5 1591.6,775.9 1591.8,789.5 1592.0,773.6 1592.3,789.5 1592.5,750.2 1592.7,789.5 1592.9,757.4 1593.2,789.5 1593.4,751.9 1593.6,789.5 1593.8,759.5 1594.1,789.5 1594.3,779.3 1594.5,789.5 1594.7,743.8 1595.0,789.5 1595.2,773.3 1595.4,789.5 1595.6,749.6 1595.9,789.5 1596.1,761.5 1596.3,789.5 1596.5,777.0 1596.8,789.5 1597.0,779.9 1597.2,789.5 1597.4,769.0 1597.7,789.5 1597.9,776.4 1598.1,789.5 1598.3,777.1 1598.6,789.5 1598.8,758.9 1599.0,789.5 1599.2,765.9 1599.5,789.5 1599.7,782.1 1599.9,789.5 1600.1,764.7 1600.4,789.5 1600.6,787.3 1600.8,789.5 1601.0,781.2 1601.3,789.5 1601.5,786.3 1601.7,789.5 1601.9,785.6 1602.2,789.5 1602.4,788.2 1602.6,789.5 1602.8,788.3 1603.1,789.5 1603.3,777.6 1603.5,789.5 1603.7,786.0 1604.0,789.5 1604.2,787.1 1604.4,789.5 1604.6,785.2 1604.9,789.5 1605.1,783.0 1605.3,789.5 1605.5,787.7 1605.8,789.5 1606.0,788.9 1606.2,789.5 1606.4,789.0 1606.7,789.5 1606.9,786.2 1607.1,789.5 1607.3,789.1 1607.6,789.5 1607.8,789.1 1608.0,789.5 1608.2,785.8 1608.5,789.5 1608.7,785.6 1608.9,789.5 1609.1,784.0 1609.4,789.5 1609.6,788.0 1609.8,789.5 1610.0,784.6 1610.3,789.5 1610.5,788.7 1610.7,789.5 1610.9,786.5 1611.2,789.5 1611.4,786.6 1611.6,789.5 1611.8,784.3 1612.1,789.5 1612.3,788.2 1612.5,789.5 1612.7,785.6 1613.0,789.5 1613.2,788.7 1613.4,789.5 1613.6,788.1 1613.9,789.5 1614.1,787.3 1614.3,789.5 1614.5,787.0 1614.8,789.5 1615.0,784.1 1615.2,789.5 1615.4,788.9 1615.7,789.5 1615.9,783.2 1616.1,789.5 1616.3,785.6 1616.6,789.5 1616.8,785.8 1617.0,789.5 1617.2,788.6 1617.5,789.5 1617.7,788.7 1617.9,789.5 1618.1,786.0 1618.4,789.5 1618.6,783.6 1618.8,789.5 1619.0,787.0 1619.3,789.5 1619.5,784.0 1619.7,789.5 1619.9,785.6 1620.2,789.5 1620.4,788.4 1620.6,789.5 1620.8,786.8 1621.1,789.5 1621.3,787.3 1621.5,789.5 1621.7,782.7 1622.0,789.5 1622.2,781.8 1622.4,789.5 1622.6,784.7 1622.9,789.5 1623.1,783.3 1623.3,789.5 1623.5,786.8 1623.8,789.5 1624.0,785.5 1624.2,789.5 1624.4,783.9 1624.7,789.5 1624.9,788.8 1625.1,789.5 1625.3,788.2 1625.6,789.5 1625.8,786.4 1626.0,789.5 1626.2,788.1 1626.5,789.5 1626.7,786.1 1626.9,789.5 1627.1,788.2 1627.4,789.5 1627.6,783.9 1627.8,789.5 1628.0,783.6 1628.3,789.5 1628.5,788.7 1628.7,789.5 1628.9,782.6 1629.2,789.5 1629.4,788.4 1629.6,789.5 1629.8,785.4 1630.1,789.5 1630.3,780.8 1630.5,789.5 1630.7,782.3 1631.0,789.5 1631.2,784.8 1631.4,789.5 1631.6,787.6 1631.9,789.5 1632.1,788.0 1632.3,789.5 1632.5,788.4 1632.8,789.5 1633.0,786.8 1633.2,789.5 1633.4,781.8 1633.7,789.5 1633.9,788.4 1634.1,789.5 1634.3,784.4 1634.6,789.5 1634.8,787.3 1635.0,789.5 1635.2,787.2 1635.5,789.5 1635.7,787.0 1635.9,789.5 1636.1,787.8 1636.4,789.5 1636.6,786.1 1636.8,789.5 1637.0,788.0 1637.3,789.5 1637.5,787.0 1637.7,789.5 1637.9,784.3 1638.2,789.5 1638.4,788.8 1638.6,789.5 1638.8,787.0 1639.1,789.5 1639.3,784.6 1639.5,789.5 1639.7,787.1 1640.0,789.5 1640.2,788.1 1640.4,789.5 1640.6,782.8 1640.9,789.5 1641.1,785.9 1641.3,789.5 1641.5,788.6 1641.8,789.5 1642.0,783.8 1642.2,789.5 1642.4,781.4 1642.7,789.5 1642.9,784.7 1643.1,789.5 1643.3,786.4 1643.6,789.5 1643.8,784.8 1644.0,789.5 1644.2,778.7 1644.5,789.5 1644.7,783.8 1644.9,789.5 1645.1,788.5 1645.4,789.5 1645.6,783.2 1645.8,789.5 1646.0,787.8 1646.3,789.5 1646.5,786.1 1646.7,789.5 1646.9,787.9 1647.2,789.5 1647.4,780.6 1647.6,789.5 1647.8,780.5 1648.1,789.5 1648.3,784.8 1648.5,789.5 1648.7,775.8 1649.0,789.5 1649.2,786.2 1649.4,789.5 1649.6,788.0 1649.9,789.5 1650.1,784.2 1650.3,789.5 1650.5,788.0 1650.8,789.5 1651.0,786.8 1651.2,789.5 1651.4,785.5 1651.7,789.5 1651.9,785.0 1652.1,789.5 1652.3,778.0 1652.6,789.5 1652.8,787.8 1653.0,789.5 1653.2,785.6 1653.5,789.5 1653.7,775.4 1653.9,789.5 1654.1,787.8 1654.4,789.5 1654.6,778.4 1654.8,789.5 1655.0,787.6 1655.3,789.5 1655.5,763.3 1655.7,789.5 1655.9,783.1 1656.2,789.5 1656.4,779.8 1656.6,789.5 1656.8,777.2 1657.1,789.5 1657.3,756.0 1657.5,789.5 1657.7,772.6 1658.0,789.5 1658.2,778.1 1658.4,789.5 1658.6,776.7 1658.9,789.5 1659.1,777.0 1659.3,789.5 1659.5,781.8 1659.8,789.5 1660.0,772.4 1660.2,789.5 1660.4,780.0 1660.7,789.5 1660.9,778.4 1661.1,789.5 1661.3,764.7 1661.6,789.5 1661.8,776.5 1662.0,789.5 1662.2,771.3 1662.5,789.5 1662.7,773.4 1662.9,789.5 1663.1,775.3 1663.4,789.5 1663.6,781.8 1663.8,789.5 1664.0,787.9 1664.3,789.5 1664.5,786.2 1664.7,789.5 1664.9,773.8 1665.2,789.5 1665.4,778.4 1665.6,789.5 1665.8,773.9 1666.1,789.5 1666.3,773.9 1666.5,789.5 1666.7,787.6 1667.0,789.5 1667.2,778.2 1667.4,789.5 1667.6,775.4 1667.9,789.5 1668.1,771.2 1668.3,789.5 1668.5,770.7 1668.8,789.5 1669.0,760.3 1669.2,789.5 1669.4,767.1 1669.7,789.5 1669.9,778.4 1670.1,789.5 1670.3,782.2 1670.6,789.5 1670.8,782.7 1671.0,789.5 1671.2,770.6 1671.5,789.5 1671.7,782.7 1671.9,789.5 1672.1,774.7 1672.4,789.5 1672.6,778.6 1672.8,789.5 1673.0,783.1 1673.3,789.5 1673.5,783.8 1673.7,789.5 1673.9,773.0 1674.2,789.5 1674.4,772.8 1674.6,789.5 1674.8,783.8 1675.1,789.5 1675.3,776.2 1675.5,789.5 1675.7,783.5 1676.0,789.5 1676.2,778.2 1676.4,789.5 1676.6,750.9 1676.9,789.5 1677.1,789.5 1677.3,789.5 1677.5,789.5 1677.8,789.5 1678.0,789.5 1678.2,789.5 1678.4,789.5 1678.7,789.5 1678.9,789.5 1679.1,789.5 1679.3,789.5 1679.6,789.5 1679.8,789.5 1680.0,789.5 1680.2,789.5 1680.5,789.5 1680.7,789.5 1680.9,789.2 1681.1,789.2 1681.4,788.6 1681.6,788.7 1681.8,788.0 1682.0,788.1 1682.3,787.6 1682.5,787.5 1682.7,786.8 1682.9,787.0 1683.2,786.1 1683.4,786.4 1683.6,785.5 1683.8,785.8 1684.1,784.8 1684.3,785.3 1684.5,785.2 1684.7,784.7 1685.0,784.0 1685.2,784.1 1685.4,784.5 1685.6,783.6 1685.9,783.7 1686.1,783.0 1686.3,781.8 1686.5,782.4 1686.8,781.2 1687.0,781.9 1687.2,780.7 1687.4,781.3 1687.7,779.9 1687.9,780.7 1688.1,781.8 1688.3,780.1 1688.6,778.7 1688.8,779.5 1689.0,778.5 1689.2,778.9 1689.5,777.7 1689.7,778.3 1689.9,777.4 1690.1,777.7 1690.4,775.5 1690.6,777.1 1690.8,775.0 1691.0,776.5 1691.3,775.7 1691.5,775.9 1691.7,774.0 1691.9,775.3 1692.2,774.5 1692.4,774.6 1692.6,772.5 1692.8,774.0 1693.1,772.2 1693.3,773.4 1693.5,773.1 1693.7,772.8 1694.0,771.6 1694.2,772.2 1694.4,770.7 1694.6,771.6 1694.9,770.8 1695.1,771.0 1695.3,769.2 1695.5,771.0 1695.8,773.0 1696.0,771.3 1696.2,769.8 1696.4,771.5 1696.7,770.1 1696.9,771.8 1697.1,772.0 1697.3,772.0 1697.6,771.1 1697.8,772.3 1698.0,771.0 1698.2,772.6 1698.5,771.2 1698.7,772.8 1698.9,771.4 1699.1,773.1 1699.4,776.4 1699.6,773.4 1699.8,772.8 1700.0,773.6 1700.3,772.6 1700.5,773.9 1700.7,773.0 1700.9,774.2 1701.2,773.8 1701.4,774.4 1701.6,774.7 1701.8,774.7 1702.1,774.9 1702.3,775.0 1702.5,774.0 1702.7,775.0 1703.0,773.4 1703.2,775.0 1703.4,776.6 1703.6,775.0 1703.9,774.6 1704.1,775.0 1704.3,774.7 1704.5,775.1 1704.8,773.5 1705.0,775.1 1705.2,776.4 1705.4,775.1 1705.7,774.1 1705.9,775.1 1706.1,775.0 1706.3,775.1 1706.6,776.9 1706.8,775.1 1707.0,774.6 1707.2,775.1 1707.5,773.7 1707.7,775.1 1707.9,774.1 1708.1,775.1 1708.4,774.0 1708.6,775.2 1708.8,775.1 1709.0,775.2 1709.3,774.0 1709.5,775.2 1709.7,774.6 1709.9,775.2 1710.2,775.0 1710.4,775.2 1710.6,773.8 1710.8,775.2 1711.1,773.9 1711.3,775.2 1711.5,773.9 1711.7,775.2 1712.0,774.7 1712.2,775.3 1712.4,773.9 1712.6,775.3 1712.9,775.1 1713.1,775.3 1713.3,775.2 1713.5,775.3 1713.8,775.2 1714.0,775.3 1714.2,777.5 1714.4,775.3 1714.7,774.5 1714.9,775.3 1715.1,774.0 1715.3,775.3 1715.6,777.8 1715.8,775.3 1716.0,774.0 1716.2,775.4 1716.5,776.6 1716.7,775.4 1716.9,774.3 1717.1,775.4 1717.4,774.5 1717.6,775.4 1717.8,775.1 1718.0,775.4 1718.3,775.4 1718.5,775.4 1718.7,775.3 1718.9,775.4 1719.2,774.6 1719.4,775.4 1719.6,777.2 1719.8,775.4 1720.1,774.5 1720.3,775.5 1720.5,778.2 1720.7,775.5 1721.0,777.0 1721.2,775.5 1721.4,774.8 1721.6,775.5 1721.9,775.0 1722.1,775.5 1722.3,775.1 1722.5,775.7 1722.8,775.4 1723.0,775.9 1723.2,774.3 1723.4,776.0 1723.7,776.0 1723.9,776.2 1724.1,776.0 1724.3,776.4 1724.6,776.2 1724.8,776.5 1725.0,775.0 1725.2,776.7 1725.5,776.3 1725.7,776.9 1725.9,776.4 1726.1,777.0 1726.4,776.7 1726.6,777.2 1726.8,777.0 1727.0,777.4 1727.3,777.0 1727.5,777.5 1727.7,777.1 1727.9,777.7 1728.2,777.5 1728.4,777.9 1728.6,777.1 1728.8,778.0 1729.1,777.3 1729.3,778.2 1729.5,777.8 1729.7,778.4 1730.0,777.5 1730.2,778.5 1730.4,778.4 1730.6,778.7 1730.9,778.5 1731.1,778.8 1731.3,777.9 1731.5,778.9 1731.8,778.0 1732.0,779.0 1732.2,778.3 1732.4,779.0 1732.7,778.9 1732.9,779.1 1733.1,778.9 1733.3,779.2 1733.6,779.4 1733.8,779.2 1734.0,778.7 1734.2,779.3 1734.5,778.7 1734.7,779.4 1734.9,779.3 1735.1,779.4 1735.4,779.2 1735.6,779.5 1735.8,778.8 1736.0,779.6 1736.3,779.5 1736.5,779.6 1736.7,778.7 1736.9,779.7 1737.2,778.9 1737.4,779.8 1737.6,779.2 1737.8,779.8 1738.1,779.6 1738.3,779.9 1738.5,779.2 1738.7,780.0 1739.0,779.3 1739.2,780.0 1739.4,779.8 1739.6,780.1 1739.9,779.9 1740.1,780.2 1740.3,779.9 1740.5,780.3 1740.8,780.1 1741.0,780.3 1741.2,779.5 1741.4,780.4 1741.7,780.2 1741.9,780.5 1742.1,780.5 1742.3,780.5 1742.6,780.2 1742.8,753.9 1743.0,781.8 1743.2,760.1 1743.5,781.5 1743.7,766.5 1743.9,781.5 1744.1,775.4 1744.4,780.3 1744.6,769.4 1744.8,780.7 1745.0,771.8 1745.3,780.9 1745.5,770.7 1745.7,780.4 1745.9,771.6 1746.2,780.4 1746.4,769.2 1746.6,781.3 1746.8,759.7 1747.1,781.1 1747.3,756.5 1747.5,782.5 1747.7,764.1 1748.0,781.0 1748.2,769.7 1748.4,780.9 1748.6,765.5 1748.9,781.2 1749.1,767.7 1749.3,781.9 1749.5,772.4 1749.8,781.6 1750.0,758.9 1750.2,781.4 1750.4,776.7 1750.7,782.2 1750.9,772.9 1751.1,781.6 1751.3,771.0 1751.6,781.5 1751.8,770.1 1752.0,782.0 1752.2,778.1 1752.5,782.1 1752.7,778.4 1752.9,781.9 1753.1,780.7 1753.4,781.7 1753.6,780.7 1753.8,782.1 1754.0,776.9 1754.3,783.1 1754.5,766.6 1754.7,782.1 1754.9,780.2 1755.2,781.9 1755.4,778.4 1755.6,782.1 1755.8,780.1 1756.1,782.4 1756.3,778.1 1756.5,782.4 1756.7,778.2 1757.0,782.3 1757.2,779.1 1757.4,782.3 1757.6,779.1 1757.9,782.4 1758.1,779.6 1758.3,782.8 1758.5,773.6 1758.8,783.0 1759.0,778.7 1759.2,782.8 1759.4,779.1 1759.7,782.9 1759.9,779.7 1760.1,783.0 1760.3,782.4 1760.6,783.0 1760.8,776.7 1761.0,783.0 1761.2,782.9 1761.5,783.4 1761.7,782.4 1761.9,783.5 1762.1,781.8 1762.4,783.7 1762.6,777.5 1762.8,783.6 1763.0,778.5 1763.3,783.3 1763.5,780.6 1763.7,783.6 1763.9,779.2 1764.2,783.4 1764.4,779.6 1764.6,783.3 1764.8,776.7 1765.1,783.1 1765.3,782.2 1765.5,783.3 1765.7,782.4 1766.0,783.5 1766.2,781.2 1766.4,783.4 1766.6,777.7 1766.9,783.5 1767.1,777.4 1767.3,783.2 1767.5,778.8 1767.8,782.9 1768.0,771.4 1768.2,783.4 1768.4,780.4 1768.7,783.0 1768.9,780.9 1769.1,783.3 1769.3,773.2 1769.6,783.4 1769.8,780.3 1770.0,783.3 1770.2,780.1 1770.5,782.8 1770.7,780.7 1770.9,784.3 1771.1,781.2 1771.4,782.8 1771.6,782.0 1771.8,782.8 1772.0,781.0 1772.3,782.7 1772.5,782.1 1772.7,782.8 1772.9,781.3 1773.2,783.0 1773.4,780.3 1773.6,782.9 1773.8,778.8 1774.1,782.7 1774.3,773.4 1774.5,783.9 1774.7,769.8 1775.0,782.2 1775.2,776.7 1775.4,782.8 1775.6,780.2 1775.9,782.6 1776.1,773.2 1776.3,782.5 1776.5,781.4 1776.8,782.4 1777.0,781.2 1777.2,782.8 1777.4,781.1 1777.7,782.6 1777.9,775.6 1778.1,782.5 1778.3,781.8 1778.6,784.1 1778.8,777.7 1779.0,782.4 1779.2,780.2 1779.5,783.9 1779.7,773.7 1779.9,782.6 1780.1,781.8 1780.4,782.3 1780.6,780.9 1780.8,782.5 1781.0,780.5 1781.3,782.4 1781.5,778.3 1781.7,783.4 1781.9,781.0 1782.2,782.2 1782.4,781.8 1782.6,781.9 1782.8,780.9 1783.1,782.4 1783.3,779.4 1783.5,782.1 1783.7,774.3 1784.0,782.2 1784.2,777.4 1784.4,782.1 1784.6,779.8 1784.9,782.0 1785.1,779.3 1785.3,782.1 1785.5,775.6 1785.8,782.2 1786.0,781.4 1786.2,781.9 1786.4,775.5 1786.7,781.4 1786.9,780.8 1787.1,781.3 1787.3,776.8 1787.6,781.4 1787.8,779.0 1788.0,781.0 1788.2,774.2 1788.5,782.5 1788.7,774.8 1788.9,781.1 1789.1,772.9 1789.4,781.0 1789.6,779.7 1789.8,780.2 1790.0,770.8 1790.3,781.8 1790.5,780.0 1790.7,781.2 1790.9,770.1 1791.2,780.4 1791.4,761.2 1791.6,780.8 1791.8,769.7 1792.1,780.3 1792.3,772.0 1792.5,780.3 1792.7,775.2 1793.0,780.1 1793.2,773.6 1793.4,780.3 1793.6,776.0 1793.9,779.9 1794.1,774.8 1794.3,779.9 1794.5,773.2 1794.8,780.1 1795.0,775.3 1795.2,779.5 1795.4,762.4 1795.7,779.4 1795.9,775.3 1796.1,781.8 1796.3,774.7 1796.6,779.0 1796.8,774.3 1797.0,779.0 1797.2,772.5 1797.5,779.2 1797.7,774.0 1797.9,779.7 1798.1,758.1 1798.4,779.3 1798.6,771.5 1798.8,779.8 1799.0,764.7 1799.3,780.4 1799.5,757.5 1799.7,779.2 1799.9,759.2 1800.2,780.2 1800.4,773.8 1800.6,778.1 1800.8,761.6 1801.1,778.6 1801.3,766.1 1801.5,778.9 1801.7,765.1 1802.0,778.3 1802.2,769.8 1802.4,777.2 1802.6,774.5 1802.9,778.5 1803.1,771.9 1803.3,778.4 1803.5,768.5 1803.8,777.7 1804.0,770.3 1804.2,780.0 1804.4,769.4 1804.7,777.3 1804.9,766.7 1805.1,778.8 1805.3,774.8 1805.6,777.4 1805.8,764.9 1806.0,778.2 1806.2,766.9 1806.5,779.8 1806.7,766.0 1806.9,776.9 1807.1,775.0 1807.4,780.1 1807.6,773.0 1807.8,776.9 1808.0,766.1 1808.3,779.0 1808.5,774.7 1808.7,779.3 1808.9,773.9 1809.2,779.4 1809.4,768.2 1809.6,777.5 1809.8,769.5 1810.1,777.1 1810.3,768.6 1810.5,777.4 1810.7,769.7 1811.0,777.5 1811.2,772.7 1811.4,776.9 1811.6,760.3 1811.9,777.2 1812.1,767.7 1812.3,776.8 1812.5,770.1 1812.8,777.1 1813.0,763.8 1813.2,776.4 1813.4,771.0 1813.7,775.9 1813.9,761.3 1814.1,775.9 1814.3,771.6 1814.6,775.1 1814.8,761.1 1815.0,776.4 1815.2,761.4 1815.5,775.6 1815.7,764.5 1815.9,775.4 1816.1,764.8 1816.4,775.4 1816.6,757.7 1816.8,775.9 1817.0,771.1 1817.3,776.4 1817.5,771.0 1817.7,777.6 1817.9,762.7 1818.2,776.9 1818.4,763.2 1818.6,776.0 1818.8,756.0 1819.1,776.0 1819.3,767.9 1819.5,776.2 1819.7,756.0 1820.0,778.8 1820.2,768.1 1820.4,775.8 1820.6,771.0 1820.9,776.1 1821.1,750.7 1821.3,776.6 1821.5,759.6 1821.8,774.9 1822.0,759.3 1822.2,775.7 1822.4,766.5 1822.7,775.6 1822.9,768.3 1823.1,775.3 1823.3,760.1 1823.6,776.1 1823.8,750.8 1824.0,777.0 1824.2,770.1 1824.5,775.6 1824.7,769.9 1824.9,776.3 1825.1,760.1 1825.4,776.9 1825.6,770.5 1825.8,775.7 1826.0,755.3 1826.3,776.3 1826.5,754.1 1826.7,778.0 1826.9,760.8 1827.2,778.8 1827.4,770.8 1827.6,776.3 1827.8,763.6 1828.1,776.4 1828.3,754.7 1828.5,775.4 1828.7,759.6 1829.0,775.4 1829.2,762.8 1829.4,776.2 1829.6,759.3 1829.9,776.0 1830.1,756.1 1830.3,776.3 1830.5,770.9 1830.8,776.0 1831.0,762.2 1831.2,776.5 1831.4,771.1 1831.7,775.7 1831.9,760.6 1832.1,776.1 1832.3,769.3 1832.6,775.6 1832.8,757.9 1833.0,776.1 1833.2,766.4 1833.5,776.7 1833.7,768.9 1833.9,776.3 1834.1,768.4 1834.4,777.5 1834.6,771.6 1834.8,776.3 1835.0,765.1 1835.3,775.7 1835.5,770.5 1835.7,775.5 1835.9,771.6 1836.2,778.8 1836.4,768.3 1836.6,776.9 1836.8,759.8 1837.1,777.5 1837.3,765.3 1837.5,775.4 1837.7,767.1 1838.0,776.1 1838.2,771.2 1838.4,776.7 1838.6,772.8 1838.9,776.1 1839.1,768.6 1839.3,777.0 1839.5,771.7 1839.8,776.1 1840.0,767.8 1840.2,777.1 1840.4,771.3 1840.7,776.5 1840.9,754.7 1841.1,776.2 1841.3,769.4 1841.6,777.7 1841.8,757.4 1842.0,776.3 1842.2,771.2 1842.5,777.5 1842.7,754.8 1842.9,776.8 1843.1,769.2 1843.4,777.1 1843.6,758.6 1843.8,777.0 1844.0,760.7 1844.3,779.3 1844.5,771.7 1844.7,776.9 1844.9,756.8 1845.2,777.5 1845.4,768.8 1845.6,777.6 1845.8,751.8 1846.1,777.1 1846.3,761.1 1846.5,776.9 1846.7,759.1 1847.0,777.2 1847.2,752.4 1847.4,777.5 1847.6,769.0 1847.9,777.6 1848.1,763.1 1848.3,777.3 1848.5,757.6 1848.8,777.4 1849.0,758.1 1849.2,778.0 1849.4,771.5 1849.7,777.8 1849.9,760.2 1850.1,779.9 1850.3,770.1 1850.6,778.2 1850.8,765.2 1851.0,778.1 1851.2,772.1 1851.5,777.8 1851.7,759.5 1851.9,779.0 1852.1,773.0 1852.4,778.4 1852.6,772.5 1852.8,778.1 1853.0,767.1 1853.3,780.4 1853.5,773.9 1853.7,778.6 1853.9,765.1 1854.2,778.3 1854.4,771.7 1854.6,778.3 1854.8,775.3 1855.1,777.7 1855.3,763.7 1855.5,778.6 1855.7,766.7 1856.0,778.9 1856.2,768.8 1856.4,779.5 1856.6,777.6 1856.9,778.4 1857.1,777.4 1857.3,778.3 1857.5,767.4 1857.8,778.3 1858.0,772.3 1858.2,779.3 1858.4,772.0 1858.7,778.5 1858.9,775.6 1859.1,778.5 1859.3,771.9 1859.6,780.9 1859.8,769.7 1860.0,778.1 1860.2,778.4 1860.5,779.1 1860.7,777.0 1860.9,778.9 1861.1,774.3 1861.4,778.9 1861.6,777.0 1861.8,779.6 1862.0,778.7 1862.3,780.8 1862.5,769.6 1862.7,779.2 1862.9,771.8 1863.2,779.7 1863.4,775.9 1863.6,779.6 1863.8,772.5 1864.1,781.3 1864.3,775.2 1864.5,780.1 1864.7,768.1 1865.0,779.8 1865.2,750.7 1865.4,779.4 1865.6,772.5 1865.9,779.6 1866.1,772.1 1866.3,781.8 1866.5,748.3 1866.8,779.4 1867.0,772.3 1867.2,780.4 1867.4,749.4 1867.7,780.4 1867.9,769.1 1868.1,780.3 1868.3,757.5 1868.6,780.4 1868.8,766.4 1869.0,780.2 1869.2,766.5 1869.5,780.8 1869.7,769.6 1869.9,780.6 1870.1,773.5 1870.4,781.4 1870.6,773.5 1870.8,781.1 1871.0,746.8 1871.3,780.9 1871.5,769.9 1871.7,780.5 1871.9,772.8 1872.2,782.6 1872.4,768.5 1872.6,781.2 1872.8,773.9 1873.1,781.4 1873.3,757.6 1873.5,780.9 1873.7,772.7 1874.0,781.2 1874.2,757.6 1874.4,781.0 1874.6,770.0 1874.9,781.0 1875.1,772.1 1875.3,781.1 1875.5,763.5 1875.8,781.8 1876.0,773.7 1876.2,782.7 1876.4,756.2 1876.7,781.6 1876.9,768.9 1877.1,781.6 1877.3,773.8 1877.6,783.0 1877.8,767.4 1878.0,781.7 1878.2,772.7 1878.5,782.4 1878.7,765.3 1878.9,782.3 1879.1,773.8 1879.4,783.9 1879.6,774.7 1879.8,782.5 1880.0,772.2 1880.3,784.1 1880.5,769.7 1880.7,782.6 1880.9,768.1 1881.2,784.2 1881.4,775.3 1881.6,784.1 1881.8,777.1 1882.1,783.2 1882.3,779.4 1882.5,783.0 1882.7,769.7 1883.0,784.4 1883.2,777.6 1883.4,783.1 1883.6,773.6 1883.9,783.2 1884.1,780.6 1884.3,783.1 1884.5,775.1 1884.8,783.4 1885.0,777.0 1885.2,783.5 1885.4,779.9 1885.7,783.8 1885.9,776.9 1886.1,783.6 1886.3,778.2 1886.6,784.2 1886.8,776.6 1887.0,784.0 1887.2,782.2 1887.5,783.9 1887.7,781.1 1887.9,784.2 1888.1,781.9 1888.4,785.0 1888.6,779.0 1888.8,784.1 1889.0,780.8 1889.3,784.3 1889.5,783.6 1889.7,784.1 1889.9,781.6 1890.2,784.9 1890.4,782.9 1890.6,784.3 1890.8,783.8 1891.1,785.1 1891.3,780.6 1891.5,785.0 1891.7,784.2 1892.0,784.9 1892.2,784.1 1892.4,784.7 1892.6,783.8 1892.9,784.8 1893.1,781.3 1893.3,785.4 1893.5,784.6 1893.8,785.1 1894.0,783.3 1894.2,785.3 1894.4,781.5 1894.7,785.1 1894.9,785.0 1895.1,785.9 1895.3,782.7 1895.6,785.1 1895.8,784.9 1896.0,785.0 1896.2,785.0 1896.5,785.4 1896.7,782.5 1896.9,785.4 1897.1,783.7 1897.4,785.4 1897.6,785.2 1897.8,785.7 1898.0,785.1 1898.3,786.2 1898.5,783.1 1898.7,785.5 1898.9,783.2 1899.2,785.6 1899.4,783.8 1899.6,785.7 1899.8,784.8 1900.1,786.0 1900.3,784.1 1900.5,785.8 1900.7,785.8 1901.0,785.8 1901.2,783.9 1901.4,785.8 1901.6,784.7 1901.9,786.0 1902.1,785.4 1902.3,785.7 1902.5,783.9 1902.8,786.1 1903.0,785.2 1903.2,786.0 1903.4,784.6 1903.7,785.9 1903.9,785.8 1904.1,786.2 1904.3,785.6 1904.6,785.8 1904.8,784.6 1905.0,785.8 1905.2,785.8 1905.5,785.9 1905.7,784.5 1905.9,785.9 1906.1,785.5 1906.4,785.7 1906.6,785.8 1906.8,785.7 1907.0,784.7 1907.3,785.7 1907.5,783.7 1907.7,785.9 1907.9,785.2 1908.2,785.8 1908.4,784.8 1908.6,785.7 1908.8,785.4 1909.1,785.8 1909.3,784.8 1909.5,785.7 1909.7,784.1 1910.0,785.9 1910.2,785.2 1910.4,785.9 1910.6,785.8 1910.9,785.9 1911.1,783.5 1911.3,786.3 1911.5,784.6 1911.8,786.0 1912.0,785.4 1912.2,785.9 1912.4,785.3 1912.7,786.0 1912.9,783.6 1913.1,786.3 1913.3,785.6 1913.6,786.1 1913.8,783.9 1914.0,786.0 1914.2,785.1 1914.5,785.9 1914.7,785.8 1914.9,785.8 1915.1,784.2 1915.4,785.7 1915.6,784.9 1915.8,785.8 1916.0,785.8 1916.3,785.7 1916.5,784.1 1916.7,785.8 1916.9,785.7 1917.2,785.5 1917.4,784.9 1917.6,785.5 1917.8,785.1 1918.1,785.9 1918.3,785.4 1918.5,786.3 1918.7,785.6 1919.0,785.8 1919.2,784.9 1919.4,785.7 1919.6,783.9 1919.9,785.7 1920.1,783.8 1920.3,786.0 1920.5,785.8 1920.8,786.0 1921.0,785.8 1921.2,786.0 1921.4,784.5 1921.7,785.6 1921.9,784.3 1922.1,785.8 1922.3,784.2 1922.6,786.0 1922.8,785.8 1923.0,785.8 1923.2,785.1 1923.5,785.8 1923.7,785.8 1923.9,785.8 1924.1,785.5 1924.4,785.9 1924.6,785.3 1924.8,785.9 1925.0,785.6 1925.3,785.9 1925.5,784.4 1925.7,785.7 1925.9,785.8 1926.2,786.0 1926.4,783.6 1926.6,785.9 1926.8,785.7 1927.1,785.9 1927.3,784.8 1927.5,786.5 1927.7,785.6 1928.0,785.8 1928.2,785.8 1928.4,785.8 1928.6,785.4 1928.9,785.9 1929.1,784.1 1929.3,785.6 1929.5,785.7 1929.8,785.8 1930.0,785.7 1930.2,785.6 1930.4,784.6 1930.7,785.3 1930.9,785.5 1931.1,785.6 1931.3,783.8 1931.6,785.4 1931.8,785.6 1932.0,786.4 1932.2,785.5 1932.5,785.7 1932.7,783.9 1932.9,785.9 1933.1,785.1 1933.4,785.6 1933.6,784.3 1933.8,785.8 1934.0,784.3 1934.3,785.3 1934.5,782.9 1934.7,785.3 1934.9,784.9 1935.2,785.3 1935.4,785.2 1935.6,785.3 1935.8,782.6 1936.1,785.6 1936.3,784.7 1936.5,785.4 1936.7,784.5 1937.0,785.4 1937.2,782.4 1937.4,785.1 1937.6,784.9 1937.9,785.0 1938.1,781.1 1938.3,785.0 1938.5,784.8 1938.8,786.0 1939.0,784.6 1939.2,785.1 1939.4,784.9 1939.7,785.2 1939.9,783.6 1940.1,785.3 1940.3,784.7 1940.6,784.9 1940.8,782.7 1941.0,785.2 1941.2,784.7 1941.5,784.8 1941.7,783.5 1941.9,785.0 1942.1,782.5 1942.4,784.8 1942.6,780.9 1942.8,785.5 1943.0,781.6 1943.3,784.9 1943.5,784.7 1943.7,785.3 1943.9,780.3 1944.2,784.7 1944.4,781.2 1944.6,784.9 1944.8,781.1 1945.1,784.9 1945.3,782.8 1945.5,784.9 1945.7,780.5 1946.0,785.1 1946.2,783.0 1946.4,784.6 1946.6,784.5 1946.9,784.7 1947.1,782.0 1947.3,784.5 1947.5,783.5 1947.8,784.8 1948.0,782.9 1948.2,785.6 1948.4,783.4 1948.7,784.8 1948.9,784.4 1949.1,784.4 1949.3,781.3 1949.6,785.3 1949.8,782.9 1950.0,784.4 1950.2,781.2 1950.5,785.3 1950.7,782.5 1950.9,784.2 1951.1,783.4 1951.4,785.6 1951.6,782.7 1951.8,784.2 1952.0,782.8 1952.3,785.6 1952.5,784.0 1952.7,784.2 1952.9,784.2 1953.2,784.6 1953.4,784.1 1953.6,784.1 1953.8,783.8 1954.1,784.5 1954.3,781.7 1954.5,784.4 1954.7,783.6 1955.0,784.1 1955.2,775.2 1955.4,784.3 1955.6,780.7 1955.9,784.5 1956.1,781.7 1956.3,784.6 1956.5,782.9 1956.8,784.4 1957.0,782.0 1957.2,784.6 1957.4,782.7 1957.7,784.4 1957.9,780.2 1958.1,784.5 1958.3,768.2 1958.6,784.6 1958.8,764.3 1959.0,784.7 1959.2,777.6 1959.5,784.6 1959.7,778.3 1959.9,785.9 1960.1,768.0 1960.4,784.2 1960.6,775.5 1960.8,783.9 1961.0,770.7 1961.3,783.4 1961.5,769.7 1961.7,784.2 1961.9,768.7 1962.2,782.2 1962.4,770.8 1962.6,782.0 1962.8,773.0 1963.1,781.3 1963.3,769.2 1963.5,782.3 1963.7,774.8 1964.0,782.5 1964.2,773.3 1964.4,780.3 1964.6,766.6 1964.9,779.7 1965.1,764.2 1965.3,780.4 1965.5,763.8 1965.8,779.3 1966.0,761.4 1966.2,779.1 1966.4,764.5 1966.7,779.3 1966.9,765.4 1967.1,778.7 1967.3,769.4 1967.6,777.9 1967.8,760.2 1968.0,778.1 1968.2,750.3 1968.5,778.9 1968.7,763.1 1968.9,778.1 1969.1,772.9 1969.4,778.2 1969.6,763.1 1969.8,777.8 1970.0,759.1 1970.3,777.7 1970.5,764.8 1970.7,777.4 1970.9,772.2 1971.2,777.5 1971.4,767.4 1971.6,777.5 1971.8,771.3 1972.1,777.6 1972.3,771.2 1972.5,777.8 1972.7,759.8 1973.0,776.3 1973.2,749.6 1973.4,776.2 1973.6,771.8 1973.9,776.6 1974.1,766.4 1974.3,776.6 1974.5,770.8 1974.8,777.4 1975.0,754.4 1975.2,776.4 1975.4,766.0 1975.7,776.3 1975.9,763.0 1976.1,777.7 1976.3,763.0 1976.6,777.4 1976.8,754.6 1977.0,779.5 1977.2,765.9 1977.5,777.4 1977.7,770.6 1977.9,777.8 1978.1,763.2 1978.4,777.2 1978.6,766.4 1978.8,777.6 1979.0,770.8 1979.3,777.7 1979.5,769.6 1979.7,778.1 1979.9,767.9 1980.2,777.4 1980.4,756.4 1980.6,778.0 1980.8,768.4 1981.1,778.1 1981.3,766.8 1981.5,778.7 1981.7,754.6 1982.0,780.8 1982.2,753.7 1982.4,781.0 1982.6,759.9 1982.9,778.3 1983.1,773.3 1983.3,781.2 1983.5,774.3 1983.8,778.8 1984.0,774.4 1984.2,778.6 1984.4,756.9 1984.7,778.9 1984.9,767.7 1985.1,779.2 1985.3,773.7 1985.6,779.3 1985.8,774.9 1986.0,779.1 1986.2,774.5 1986.5,779.9 1986.7,774.0 1986.9,780.3 1987.1,774.5 1987.4,779.8 1987.6,767.5 1987.8,779.3 1988.0,770.1 1988.3,779.9 1988.5,774.4 1988.7,781.9 1988.9,772.4 1989.2,782.1 1989.4,770.7 1989.6,780.3 1989.8,777.1 1990.1,780.2 1990.3,778.1 1990.5,779.8 1990.7,779.1 1991.0,780.2 1991.2,774.3 1991.4,780.1 1991.6,773.6 1991.9,780.7 1992.1,778.9 1992.3,780.7 1992.5,779.6 1992.8,779.9 1993.0,775.9 1993.2,780.2 1993.4,777.5 1993.7,780.7 1993.9,777.3 1994.1,780.9 1994.3,777.9 1994.6,781.0 1994.8,770.1 1995.0,781.0 1995.2,776.6 1995.5,781.6 1995.7,772.9 1995.9,781.0 1996.1,776.8 1996.4,781.3 1996.6,779.4 1996.8,781.0 1997.0,775.8 1997.3,781.2 1997.5,778.0 1997.7,781.5 1997.9,780.4 1998.2,781.4 1998.4,779.1 1998.6,781.7 1998.8,772.3 1999.1,783.1 1999.3,780.2 1999.5,781.2 1999.7,778.3 2000.0,781.6 2000.2,775.6 2000.4,781.6 2000.6,770.1 2000.9,781.6 2001.1,777.7 2001.3,782.4 2001.5,766.2 2001.8,781.9 2002.0,764.4 2002.2,783.3 2002.4,776.4 2002.7,782.0 2002.9,771.1 2003.1,781.9 2003.3,768.5 2003.6,782.0 2003.8,773.3 2004.0,781.9 2004.2,761.3 2004.5,782.1 2004.7,764.7 2004.9,782.3 2005.1,775.8 2005.4,782.2 2005.6,775.8 2005.8,782.4 2006.0,769.1 2006.3,782.0 2006.5,775.0 2006.7,782.3 2006.9,774.8 2007.2,782.2 2007.4,772.9 2007.6,782.2 2007.8,764.5 2008.1,782.4 2008.3,757.6 2008.5,782.2 2008.7,767.8 2009.0,782.5 2009.2,773.1 2009.4,783.5 2009.6,774.1 2009.9,782.8 2010.1,771.9 2010.3,782.4 2010.5,759.7 2010.8,782.2 2011.0,775.4 2011.2,782.1 2011.4,777.4 2011.7,782.5 2011.9,767.0 2012.1,783.0 2012.3,776.6 2012.6,782.5 2012.8,773.8 2013.0,783.0 2013.2,775.3 2013.5,783.1 2013.7,775.7 2013.9,782.9 2014.1,769.2 2014.4,782.8 2014.6,758.0 2014.8,783.8 2015.0,761.1 2015.3,782.7 2015.5,771.0 2015.7,782.5 2015.9,768.3 2016.2,782.9 2016.4,773.6 2016.6,783.0 2016.8,770.6 2017.1,783.1 2017.3,777.4 2017.5,783.3 2017.7,776.5 2018.0,784.6 2018.2,777.9 2018.4,783.3 2018.6,774.5 2018.9,783.2 2019.1,767.1 2019.3,783.5 2019.5,780.5 2019.8,783.1 2020.0,770.4 2020.2,783.6 2020.4,774.7 2020.7,783.8 2020.9,782.2 2021.1,784.1 2021.3,780.9 2021.6,783.8 2021.8,780.4 2022.0,784.1 2022.2,781.2 2022.5,784.1 2022.7,771.5 2022.9,784.1 2023.1,774.8 2023.4,784.7 2023.6,781.4 2023.8,784.5 2024.0,782.1 2024.3,784.9 2024.5,784.0 2024.7,784.6 2024.9,782.1 2025.2,785.0 2025.4,780.3 2025.6,785.1 2025.8,783.8 2026.1,785.2 2026.3,777.1 2026.5,785.3 2026.7,783.9 2027.0,785.3 2027.2,784.4 2027.4,786.0 2027.6,779.2 2027.9,785.5 2028.1,781.9 2028.3,786.5 2028.5,782.7 2028.8,785.9 2029.0,785.3 2029.2,786.8 2029.4,785.2 2029.7,786.2 2029.9,784.6 2030.1,786.3 2030.3,786.0 2030.6,786.3 2030.8,786.1 2031.0,786.4 2031.2,784.6 2031.5,786.6 2031.7,786.1 2031.9,787.0 2032.1,786.3 2032.4,787.2 2032.6,786.4 2032.8,787.3 2033.0,787.2 2033.3,787.5 2033.5,784.8 2033.7,787.9 2033.9,786.6 2034.2,788.0 2034.4,786.7 2034.6,788.5 2034.8,788.1 2035.1,788.5 2035.3,786.8 2035.5,788.5 2035.7,786.7 2036.0,788.7 2036.2,787.8 2036.4,788.4 2036.6,788.3 2036.9,788.4 2037.1,787.4 2037.3,788.5 2037.5,787.0 2037.8,788.4 2038.0,787.2 2038.2,788.5 2038.4,787.9 2038.7,788.4 2038.9,787.6 2039.1,788.4 2039.3,788.2 2039.6,788.4 2039.8,788.2 2040.0,788.4 2040.2,787.2 2040.5,788.4 2040.7,785.8 2040.9,788.5 2041.1,786.7 2041.4,788.4 2041.6,788.0 2041.8,788.4 2042.0,786.2 2042.3,788.4 2042.5,788.2 2042.7,788.4 2042.9,787.1 2043.2,788.6 2043.4,787.7 2043.6,788.5 2043.8,786.5 2044.1,788.4 2044.3,787.1 2044.5,788.4 2044.7,788.1 2045.0,788.4 2045.2,787.4 2045.4,788.6 2045.6,788.0 2045.9,788.4 2046.1,788.2 2046.3,788.4 2046.5,788.0 2046.8,788.4 2047.0,787.5 2047.2,788.4 2047.4,787.5 2047.7,788.4 2047.9,787.9 2048.1,788.4 2048.3,786.6 2048.6,788.4 2048.8,786.6 2049.0,788.4 2049.2,787.0 2049.5,788.4 2049.7,787.7 2049.9,788.3 2050.1,788.2 2050.4,788.6 2050.6,787.0 2050.8,788.4 2051.0,786.1 2051.3,788.4 2051.5,788.0 2051.7,788.3 2051.9,788.1 2052.2,788.4 2052.4,788.2 2052.6,788.6 2052.8,786.4 2053.1,788.3 2053.3,786.0 2053.5,788.4 2053.7,787.1 2054.0,788.3 2054.2,786.8 2054.4,788.4 2054.6,787.3 2054.9,788.3 2055.1,787.5 2055.3,788.4 2055.5,787.0 2055.8,788.4 2056.0,785.7 2056.2,788.3 2056.4,788.2 2056.7,788.3 2056.9,785.4 2057.1,788.4 2057.3,786.3 2057.6,788.5 2057.8,787.5 2058.0,788.3 2058.2,787.7 2058.5,788.3 2058.7,787.8 2058.9,788.3 2059.1,786.3 2059.4,788.4 2059.6,788.1 2059.8,788.4 2060.0,787.8 2060.3,788.4 2060.5,788.1 2060.7,788.3 2060.9,788.1 2061.2,788.4 2061.4,787.1 2061.6,788.4 2061.8,787.2 2062.1,788.3 2062.3,788.0 2062.5,788.4 2062.7,786.9 2063.0,788.3 2063.2,786.9 2063.4,788.3 2063.6,787.9 2063.9,788.3 2064.1,786.0 2064.3,788.3 2064.5,785.0 2064.8,788.4 2065.0,787.8 2065.2,788.3 2065.4,788.0 2065.7,788.3 2065.9,787.5 2066.1,788.3 2066.3,787.0 2066.6,788.3 2066.8,788.1 2067.0,788.2 2067.2,787.7 2067.5,788.3 2067.7,787.5 2067.9,788.4 2068.1,784.8 2068.4,788.2 2068.6,786.5 2068.8,788.4 2069.0,787.6 2069.3,788.3 2069.5,788.0 2069.7,788.3 2069.9,784.8 2070.2,788.3 2070.4,788.0 2070.6,788.3 2070.8,785.7 2071.1,788.6 2071.3,787.9 2071.5,788.2 2071.7,787.2 2072.0,788.3 2072.2,788.0 2072.4,788.3 2072.6,788.0 2072.9,788.3 2073.1,786.5 2073.3,788.3 2073.5,787.4 2073.8,788.2 2074.0,787.3 2074.2,788.3 2074.4,788.0 2074.7,788.3 2074.9,784.4 2075.1,788.4 2075.3,787.0 2075.6,788.4 2075.8,787.9 2076.0,788.3 2076.2,786.6 2076.5,788.3 2076.7,787.5 2076.9,788.3 2077.1,784.9 2077.4,788.3 2077.6,787.5 2077.8,788.4 2078.0,784.3 2078.3,788.2 2078.5,787.9 2078.7,788.3 2078.9,787.7 2079.2,788.5 2079.4,786.0 2079.6,788.5 2079.8,786.1 2080.1,788.2 2080.3,785.6 2080.5,788.4 2080.7,784.5 2081.0,788.2 2081.2,786.1 2081.4,788.5 2081.6,786.3 2081.9,788.3 2082.1,787.9 2082.3,788.2 2082.5,787.8 2082.8,788.2 2083.0,787.7 2083.2,788.3 2083.4,787.9 2083.7,788.4 2083.9,787.3 2084.1,788.2 2084.3,787.9 2084.6,788.2 2084.8,787.5 2085.0,788.3 2085.2,786.5 2085.5,788.3 2085.7,785.0 2085.9,788.3 2086.1,785.0 2086.4,788.2 2086.6,786.9 2086.8,788.2 2087.0,787.5 2087.3,788.2 2087.5,785.9 2087.7,788.2 2087.9,785.4 2088.2,788.2 2088.4,783.7 2088.6,788.2 2088.8,786.2 2089.1,788.3 2089.3,787.3 2089.5,788.2 2089.7,787.3 2090.0,788.3 2090.2,787.9 2090.4,788.2 2090.6,787.0 2090.9,788.2 2091.1,787.8 2091.3,788.2 2091.5,787.8 2091.8,788.2 2092.0,785.9 2092.2,788.2 2092.4,783.1 2092.7,788.2 2092.9,784.5 2093.1,788.5 2093.3,783.0 2093.6,788.2 2093.8,787.5 2094.0,788.2 2094.2,787.5 2094.5,788.2 2094.7,785.2 2094.9,788.1 2095.1,783.6 2095.4,788.2 2095.6,787.3 2095.8,788.2 2096.0,787.3 2096.3,788.3 2096.5,784.7 2096.7,788.2 2096.9,785.8 2097.2,788.5 2097.4,785.1 2097.6,788.3 2097.8,787.7 2098.1,788.5 2098.3,787.2 2098.5,788.3 2098.7,785.4 2099.0,788.3 2099.2,786.4 2099.4,788.3 2099.6,786.3 2099.9,788.2 2100.1,784.1 2100.3,788.2 2100.5,787.2 2100.8,788.3 2101.0,787.8 2101.2,788.5 2101.4,783.4 2101.7,788.2 2101.9,786.7 2102.1,788.5 2102.3,785.6 2102.6,788.3 2102.8,786.0 2103.0,788.3 2103.2,787.8 2103.5,788.5 2103.7,787.2 2103.9,788.2 2104.1,785.7 2104.4,788.3 2104.6,783.7 2104.8,788.2 2105.0,787.1 2105.3,788.2 2105.5,785.8 2105.7,788.3 2105.9,787.7 2106.2,788.2 2106.4,786.2 2106.6,788.2 2106.8,787.1 2107.1,788.3 2107.3,787.8 2107.5,788.2 2107.7,787.8 2108.0,788.3 2108.2,787.8 2108.4,788.4 2108.6,786.3 2108.9,788.2 2109.1,786.7 2109.3,788.3 2109.5,783.6 2109.8,788.3 2110.0,787.6 2110.2,788.4 2110.4,787.6 2110.7,788.2 2110.9,784.3 2111.1,788.3 2111.3,786.6 2111.6,788.3 2111.8,786.9 2112.0,788.4 2112.2,786.7 2112.5,788.3 2112.7,787.2 2112.9,788.4 2113.1,787.9 2113.4,788.2 2113.6,787.7 2113.8,788.5 2114.0,783.9 2114.3,788.2 2114.5,787.3 2114.7,788.3 2114.9,784.4 2115.2,788.2 2115.4,787.9 2115.6,788.3 2115.8,787.9 2116.1,788.4 2116.3,784.1 2116.5,788.3 2116.7,787.7 2117.0,788.4 2117.2,786.8 2117.4,788.2 2117.6,783.0 2117.9,788.2 2118.1,787.1 2118.3,788.5 2118.5,785.7 2118.8,788.2 2119.0,786.2 2119.2,788.3 2119.4,783.0 2119.7,788.3 2119.9,783.1 2120.1,788.2 2120.3,787.6 2120.6,788.3 2120.8,785.0 2121.0,788.2 2121.2,783.5 2121.5,788.2 2121.7,786.3 2121.9,788.3 2122.1,783.7 2122.4,788.4 2122.6,784.2 2122.8,788.4 2123.0,787.2 2123.3,788.2 2123.5,787.9 2123.7,788.4 2123.9,786.6 2124.2,788.5 2124.4,784.8 2124.6,788.3 2124.8,786.8 2125.1,788.2 2125.3,787.0 2125.5,788.3 2125.7,786.9 2126.0,788.2 2126.2,785.0 2126.4,788.2 2126.6,786.2 2126.9,788.2 2127.1,784.0 2127.3,788.2 2127.5,783.4 2127.8,788.3 2128.0,785.2 2128.2,788.2 2128.4,787.3 2128.7,788.3 2128.9,783.5 2129.1,788.5 2129.3,785.3 2129.6,788.2 2129.8,783.9 2130.0,788.2 2130.2,787.2 2130.5,788.2 2130.7,787.8 2130.9,788.2 2131.1,786.7 2131.4,788.4 2131.6,784.0 2131.8,788.2 2132.0,787.3 2132.3,788.2 2132.5,783.1 2132.7,788.2 2132.9,783.2 2133.2,788.2 2133.4,787.8 2133.6,788.3 2133.8,787.8 2134.1,788.3 2134.3,787.5 2134.5,788.2 2134.7,787.2 2135.0,788.5 2135.2,786.8 2135.4,788.2 2135.6,785.4 2135.9,788.2 2136.1,786.4 2136.3,788.2 2136.5,787.8 2136.8,788.2 2137.0,787.3 2137.2,788.3 2137.4,787.3 2137.7,788.3 2137.9,786.2 2138.1,788.2 2138.3,785.1 2138.6,788.2 2138.8,787.8 2139.0,788.3 2139.2,785.9 2139.5,788.3 2139.7,786.3 2139.9,788.3 2140.1,787.6 2140.4,788.3 2140.6,787.8 2140.8,788.2 2141.0,784.0 2141.3,788.3 2141.5,784.0 2141.7,788.2 2141.9,787.0 2142.2,788.3 2142.4,785.7 2142.6,788.3 2142.8,787.8 2143.1,788.2 2143.3,785.7 2143.5,788.5 2143.7,783.8 2144.0,788.2 2144.2,787.8 2144.4,788.3 2144.6,786.6 2144.9,788.3 2145.1,787.1 2145.3,788.2 2145.5,785.1 2145.8,788.2 2146.0,787.9 2146.2,788.1 2146.4,787.0 2146.7,788.2 2146.9,786.0 2147.1,788.3 2147.3,785.8 2147.6,788.2 2147.8,787.3 2148.0,788.3 2148.2,787.8 2148.5,788.2 2148.7,783.1 2148.9,788.3 2149.1,785.0 2149.4,788.3 2149.6,787.9 2149.8,788.4 2150.0,787.8 2150.3,788.5 2150.5,786.6 2150.7,788.2 2150.9,787.8 2151.2,788.5 2151.4,783.7 2151.6,788.5 2151.8,784.0 2152.1,788.2 2152.3,785.6 2152.5,788.2 2152.7,784.3 2153.0,788.2 2153.2,783.5 2153.4,788.2 2153.6,784.9 2153.9,788.2 2154.1,786.8 2154.3,788.4 2154.5,786.1 2154.8,788.2 2155.0,784.1 2155.2,788.3 2155.4,783.6 2155.7,788.3 2155.9,785.3 2156.1,788.2 2156.3,783.5 2156.6,788.3 2156.8,787.9 2157.0,788.2 2157.2,787.6 2157.5,788.3 2157.7,785.8 2157.9,788.3 2158.1,787.5 2158.4,788.3 2158.6,785.4 2158.8,788.3 2159.0,786.7 2159.3,788.4 2159.5,786.8 2159.7,788.7 2159.9,785.2 2160.2,788.5 2160.4,786.0 2160.6,788.5 2160.8,785.3 2161.1,788.5 2161.3,788.1 2161.5,788.6 2161.7,788.1 2162.0,788.6 2162.2,785.7 2162.4,788.6 2162.6,786.5 2162.9,788.7 2163.1,787.6 2163.3,788.6 2163.5,786.0 2163.8,788.7 2164.0,788.5 2164.2,788.7 2164.4,786.8 2164.7,788.8 2164.9,787.4 2165.1,788.8 2165.3,786.6 2165.6,788.9 2165.8,788.6 2166.0,789.0 2166.2,786.9 2166.5,788.9 2166.7,788.3 2166.9,788.9 2167.1,787.0 2167.4,788.9 2167.6,788.4 2167.8,789.0 2168.0,788.8 2168.3,789.0 2168.5,788.4 2168.7,789.0 2168.9,788.5 2169.2,789.1 2169.4,788.1 2169.6,789.1 2169.8,788.8 2170.1,789.1 2170.3,787.8 2170.5,789.1 2170.7,788.8 2171.0,789.2 2171.2,787.9 2171.4,789.2 2171.6,788.5 2171.9,789.2 2172.1,788.7 2172.3,789.2 2172.5,788.3 2172.8,789.2 2173.0,789.0 2173.2,789.2 2173.4,788.8 2173.7,789.2 2173.9,788.2 2174.1,789.2 2174.3,788.9 2174.6,789.2 2174.8,788.8 2175.0,789.2 2175.2,788.7 2175.5,789.2 2175.7,788.5 2175.9,789.2 2176.1,788.8 2176.4,789.2 2176.6,788.6 2176.8,789.2 2177.0,789.0 2177.3,789.2 2177.5,788.4 2177.7,789.2 2177.9,788.6 2178.2,789.2 2178.4,788.4 2178.6,789.2 2178.8,788.6 2179.1,789.2 2179.3,788.7 2179.5,789.2 2179.7,788.8 2180.0,789.2 2180.2,788.5 2180.4,789.2 2180.6,788.8 2180.9,789.2 2181.1,788.7 2181.3,789.2 2181.5,789.0 2181.8,789.2 2182.0,788.1 2182.2,789.2 2182.4,788.6 2182.7,789.2 2182.9,789.0 2183.1,789.2 2183.3,788.7 2183.6,789.2 2183.8,788.7 2184.0,789.2 2184.2,788.1 2184.5,789.2 2184.7,788.1 2184.9,789.2 2185.1,788.4 2185.4,789.2 2185.6,788.7 2185.8,789.2 2186.0,788.1 2186.3,789.2 2186.5,788.4 2186.7,789.2 2186.9,788.7 2187.2,789.2 2187.4,789.0 2187.6,789.2 2187.8,789.0 2188.1,789.2 2188.3,788.6 2188.5,789.2 2188.7,788.9 2189.0,789.2 2189.2,789.0 2189.4,789.2 2189.6,788.1 2189.9,789.2 2190.1,789.0 2190.3,789.2 2190.5,788.9 2190.8,789.2 2191.0,788.7 2191.2,789.2 2191.4,788.6 2191.7,789.2 2191.9,788.5 2192.1,789.3 2192.3,788.6 2192.6,789.2 2192.8,788.8 2193.0,789.2 2193.2,788.0 2193.5,789.2 2193.7,788.8 2193.9,789.2 2194.1,789.0 2194.4,789.2 2194.6,788.9 2194.8,789.2 2195.0,788.8 2195.3,789.2 2195.5,788.0 2195.7,789.2 2195.9,789.1 2196.2,789.2 2196.4,788.0 2196.6,789.2 2196.8,789.1 2197.1,789.2 2197.3,788.9 2197.5,789.2 2197.7,788.9 2198.0,789.2 2198.2,789.0 2198.4,789.2 2198.6,789.0 2198.9,789.2 2199.1,788.7 2199.3,789.2 2199.5,789.0 2199.8,789.2 2200.0,789.0 2200.2,789.2 2200.4,789.0 2200.7,789.2 2200.9,788.7 2201.1,789.2 2201.3,788.8 2201.6,789.2 2201.8,788.4 2202.0,789.2 2202.2,789.1 2202.5,789.2 2202.7,788.9 2202.9,789.2 2203.1,788.2 2203.4,789.2 2203.6,788.5 2203.8,789.2 2204.0,788.2 2204.3,789.2 2204.5,788.5 2204.7,789.2 2204.9,788.1 2205.2,789.2 2205.4,789.0 2205.6,789.2 2205.8,788.8 2206.1,789.2 2206.3,788.9 2206.5,789.2 2206.7,788.4 2207.0,789.2 2207.2,789.0 2207.4,789.2 2207.6,788.8 2207.9,789.2 2208.1,787.9 2208.3,789.2 2208.5,788.7 2208.8,789.2 2209.0,789.1 2209.2,789.2 2209.4,788.8 2209.7,789.2 2209.9,789.0 2210.1,789.1 2210.3,788.0 2210.6,789.2 2210.8,787.5 2211.0,789.1 2211.2,788.2 2211.5,789.1 2211.7,788.7 2211.9,789.1 2212.1,787.8 2212.4,789.1 2212.6,788.0 2212.8,789.0 2213.0,788.5 2213.3,789.0 2213.5,787.2 2213.7,789.0 2213.9,787.3 2214.2,788.9 2214.4,788.7 2214.6,789.0 2214.8,787.7 2215.1,788.9 2215.3,787.6 2215.5,788.9 2215.7,786.7 2216.0,788.9 2216.2,786.5 2216.4,788.9 2216.6,788.2 2216.9,788.9 2217.1,788.6 2217.3,788.8 2217.5,787.1 2217.8,788.9 2218.0,787.6 2218.2,788.9 2218.4,785.5 2218.7,788.9 2218.9,787.7 2219.1,788.9 2219.3,787.3 2219.6,788.9 2219.8,788.2 2220.0,788.9 2220.2,788.5 2220.5,788.8 2220.7,786.6 2220.9,788.9 2221.1,788.0 2221.4,788.9 2221.6,788.1 2221.8,789.0 2222.0,784.8 2222.3,788.9 2222.5,785.0 2222.7,788.9 2222.9,786.5 2223.2,788.9 2223.4,788.1 2223.6,788.9 2223.8,785.1 2224.1,788.9 2224.3,786.8 2224.5,788.9 2224.7,784.8 2225.0,788.9 2225.2,787.5 2225.4,788.9 2225.6,786.9 2225.9,788.9 2226.1,787.0 2226.3,788.9 2226.5,787.6 2226.8,788.8 2227.0,784.9 2227.2,789.0 2227.4,785.3 2227.7,788.8 2227.9,783.9 2228.1,789.0 2228.3,784.9 2228.6,788.9 2228.8,785.4 2229.0,788.8 2229.2,786.7 2229.5,788.9 2229.7,786.7 2229.9,788.8 2230.1,788.4 2230.4,788.8 2230.6,785.4 2230.8,788.9 2231.0,787.9 2231.3,789.0 2231.5,786.5 2231.7,788.9 2231.9,785.3 2232.2,788.9 2232.4,783.6 2232.6,788.9 2232.8,785.9 2233.1,788.9 2233.3,787.5 2233.5,788.9 2233.7,788.2 2234.0,788.9 2234.2,788.3 2234.4,788.8 2234.6,786.2 2234.9,788.9 2235.1,783.2 2235.3,788.9 2235.5,785.8 2235.8,788.8 2236.0,788.1 2236.2,788.9 2236.4,786.2 2236.7,788.9 2236.9,787.4 2237.1,788.9 2237.3,785.9 2237.6,788.9 2237.8,787.8 2238.0,789.0 2238.2,788.4 2238.5,788.8 2238.7,787.3 2238.9,788.9 2239.1,788.4 2239.4,788.9 2239.6,784.5 2239.8,788.9 2240.0,786.2 2240.3,788.9 2240.5,788.3 2240.7,788.9 2240.9,783.1 2241.2,788.9 2241.4,787.6 2241.6,788.9 2241.8,787.3 2242.1,788.9 2242.3,787.3 2242.5,788.9 2242.7,784.7 2243.0,788.9 2243.2,785.4 2243.4,788.8 2243.6,783.0 2243.9,788.9 2244.1,785.4 2244.3,788.9 2244.5,785.2 2244.8,788.9 2245.0,784.2 2245.2,788.9 2245.4,785.6 2245.7,788.9 2245.9,787.0 2246.1,788.9 2246.3,785.2 2246.6,788.8 2246.8,784.5 2247.0,788.9 2247.2,787.6 2247.5,789.0 2247.7,786.4 2247.9,788.8 2248.1,787.3 2248.4,788.9 2248.6,785.4 2248.8,789.0 2249.0,783.8 2249.3,788.9 2249.5,784.4 2249.7,788.9 2249.9,787.4 2250.2,788.9 2250.4,788.1 2250.6,788.9 2250.8,786.6 2251.1,788.9 2251.3,788.4 2251.5,789.0 2251.7,787.8 2252.0,788.9 2252.2,783.6 2252.4,788.8 2252.6,787.7 2252.9,788.8 2253.1,783.9 2253.3,788.8 2253.5,785.7 2253.8,788.9 2254.0,788.2 2254.2,788.9 2254.4,788.4 2254.7,788.9 2254.9,784.0 2255.1,789.0 2255.3,787.2 2255.6,788.9 2255.8,787.8 2256.0,789.0 2256.2,783.6 2256.5,788.9 2256.7,787.5 2256.9,788.9 2257.1,785.2 2257.4,788.9 2257.6,788.3 2257.8,788.9 2258.0,787.1 2258.3,788.9 2258.5,787.2 2258.7,788.9 2258.9,788.2 2259.2,788.9 2259.4,785.4 2259.6,788.9 2259.8,787.7 2260.1,788.8 2260.3,784.8 2260.5,788.9 2260.7,787.0 2261.0,788.9 2261.2,783.5 2261.4,788.8 2261.6,786.5 2261.9,788.9 2262.1,784.4 2262.3,788.9 2262.5,786.7 2262.8,788.9 2263.0,783.9 2263.2,789.0 2263.4,786.4 2263.7,788.9 2263.9,787.7 2264.1,788.9 2264.3,787.5 2264.6,788.9 2264.8,788.3 2265.0,788.9 2265.2,788.0 2265.5,788.9 2265.7,787.0 2265.9,788.8 2266.1,783.6 2266.4,788.9 2266.6,784.7 2266.8,788.9 2267.0,785.6 2267.3,788.9 2267.5,787.1 2267.7,788.9 2267.9,788.4 2268.2,789.0 2268.4,786.8 2268.6,788.9 2268.8,788.0 2269.1,788.9 2269.3,784.1 2269.5,789.0 2269.7,788.4 2270.0,789.0 2270.2,788.2 2270.4,788.9 2270.6,784.4 2270.9,788.9 2271.1,784.9 2271.3,788.8 2271.5,788.4 2271.8,788.9 2272.0,786.5 2272.2,788.9 2272.4,786.9 2272.7,788.8 2272.9,785.5 2273.1,788.9 2273.3,783.4 2273.6,789.0 2273.8,784.8 2274.0,788.9 2274.2,784.4 2274.5,789.0 2274.7,785.2 2274.9,788.8 2275.1,783.7 2275.4,788.9 2275.6,787.9 2275.8,788.9 2276.0,786.5 2276.3,788.9 2276.5,788.1 2276.7,788.9 2276.9,788.0 2277.2,788.9 2277.4,787.3 2277.6,788.8 2277.8,788.2 2278.1,788.9 2278.3,787.2 2278.5,788.9 2278.7,787.9 2279.0,789.0 2279.2,788.2 2279.4,788.9 2279.6,785.3 2279.9,788.9 2280.1,787.8 2280.3,789.0 2280.5,786.5 2280.8,788.9 2281.0,786.1 2281.2,789.0 2281.4,788.2 2281.7,788.9 2281.9,784.3 2282.1,788.9 2282.3,787.6 2282.6,788.9 2282.8,784.5 2283.0,788.8 2283.2,786.4 2283.5,788.9 2283.7,786.6 2283.9,788.8 2284.1,788.4 2284.4,789.0 2284.6,786.0 2284.8,788.9 2285.0,784.5 2285.3,788.9 2285.5,783.7 2285.7,789.0 2285.9,784.1 2286.2,788.9 2286.4,788.1 2286.6,788.9 2286.8,788.4 2287.1,788.8 2287.3,785.7 2287.5,788.9 2287.7,786.5 2288.0,788.9 2288.2,786.5 2288.4,788.9 2288.6,784.8 2288.9,788.9 2289.1,783.1 2289.3,788.9 2289.5,788.2 2289.8,788.8 2290.0,788.0 2290.2,788.9 2290.4,786.0 2290.7,788.9 2290.9,785.0 2291.1,788.9 2291.3,786.5 2291.6,788.9 2291.8,788.4 2292.0,788.9 2292.2,786.0 2292.5,788.9 2292.7,788.2 2292.9,788.9 2293.1,788.0 2293.4,788.9 2293.6,788.3 2293.8,788.9 2294.0,786.7 2294.3,788.8 2294.5,786.5 2294.7,788.9 2294.9,786.1" fill="none" stroke="#000" stroke-width="1.3" stroke-linejoin="round" shape-rendering="crispEdges"/>
<path d="M1670.0 789.5V757.8H1671.0V789.5ZM1671.0 789.5V756.9H1672.0V789.5ZM1672.0 789.5V757.8H1672.8V789.5ZM1672.8 789.5V764.0H1673.8V789.5ZM1673.8 789.5V764.5H1674.8V789.5ZM1674.8 789.5V764.0H1675.7V789.5ZM1675.7 789.5V751.2H1676.7V789.5ZM1676.7 789.5V751.2H1677.1V789.5ZM1677.1 789.5V629.1H1678.1V789.5ZM1678.1 789.5V629.1H1679.1V789.5ZM1679.1 789.5V629.1H1679.2V789.5ZM1679.2 789.5V638.3H1680.2V789.5ZM1680.2 789.5V649.7H1681.1V789.5ZM1683.1 786.3V693.0H1684.1V786.3ZM1684.1 785.6V693.0H1684.2V785.6ZM1685.9 782.7V616.3H1686.9V782.7ZM1686.9 780.5V616.3H1687.0V780.5ZM1688.7 779.7V696.5H1689.7V779.7ZM1689.7 778.1V696.5H1689.9V778.1ZM1689.9 777.0V681.6H1690.9V777.0ZM1690.9 777.9V681.6H1691.3V777.9ZM1691.3 774.9V623.4H1692.3V774.9ZM1692.3 776.2V623.4H1692.7V776.2ZM1692.4 774.5V581.9H1693.4V774.5ZM1693.4 773.5V581.9H1693.9V773.5ZM1693.9 769.0V732.7H1694.9V769.0ZM1694.9 771.2V732.7H1695.3V771.2ZM1695.3 772.4V681.9H1696.3V772.4ZM1696.3 772.7V681.9H1697.3V772.7ZM1697.3 773.4V690.8H1698.1V773.4ZM1698.1 774.6V699.4H1699.1V774.6ZM1702.9 775.8V688.8H1703.9V775.8ZM1703.9 775.7V692.1H1704.9V775.7ZM1704.9 777.1V688.1H1705.5V777.1ZM1705.5 776.0V698.6H1706.5V776.0ZM1706.5 773.6V693.9H1707.5V773.6ZM1707.5 774.9V699.9H1708.0V774.9ZM1708.0 773.7V629.1H1709.0V773.7ZM1709.0 774.1V629.1H1710.0V774.1ZM1710.0 777.3V678.1H1711.0V777.3ZM1711.0 776.1V678.1H1712.0V776.1ZM1712.0 773.8V735.6H1713.0V773.8ZM1713.0 775.4V735.6H1713.2V775.4ZM1713.2 776.7V696.9H1714.2V776.7ZM1714.2 773.3V696.9H1715.1V773.3ZM1715.1 776.6V727.0H1716.1V776.6ZM1716.1 776.7V727.0H1717.1V776.7ZM1717.1 774.6V757.6H1718.1V774.6ZM1718.1 773.4V757.6H1718.3V773.4ZM1718.3 774.5V672.0H1719.3V774.5ZM1719.3 777.5V672.0H1720.0V777.5ZM1720.0 777.5V713.0H1721.0V777.5ZM1721.0 774.8V708.8H1722.0V774.8ZM1722.0 777.3V710.5H1722.8V777.3ZM1722.8 775.4V743.4H1723.8V775.4ZM1723.8 778.1V743.4H1723.9V778.1ZM1727.9 776.6V700.8H1728.9V776.6ZM1728.9 778.8V700.8H1729.1V778.8ZM1731.0 779.3V631.9H1732.0V779.3ZM1732.0 778.1V631.9H1732.5V778.1ZM1732.5 779.0V642.6H1733.5V779.0ZM1733.5 778.9V642.6H1733.9V778.9ZM1733.9 780.7V649.0H1734.9V780.7ZM1734.9 779.1V649.0H1735.3V779.1ZM1737.0 780.8V705.7H1737.9V780.8ZM1737.9 779.0V719.9H1738.9V779.0ZM1738.9 779.3V732.7H1739.9V779.3ZM1739.9 779.8V732.7H1740.1V779.8ZM1740.1 779.9V658.9H1741.1V779.9ZM1741.1 779.1V658.9H1741.8V779.1ZM1741.8 779.7V749.0H1742.8V779.7ZM1742.8 780.1V749.0H1743.8V780.1ZM1743.8 781.2V761.7H1744.8V781.2ZM1744.8 779.7V761.6H1745.8V779.7ZM1745.8 782.3V760.5H1746.7V782.3ZM1746.7 780.1V751.2H1747.7V780.1ZM1747.7 781.6V751.2H1748.7V781.6ZM1748.7 782.2V751.2H1748.9V782.2ZM1748.9 782.8V761.1H1749.9V782.8ZM1749.9 782.6V761.1H1750.9V782.6ZM1750.9 782.3V773.9H1751.9V782.3ZM1751.9 782.5V773.9H1752.9V782.5ZM1752.9 782.7V773.9H1753.0V782.7ZM1753.0 781.5V768.9H1754.0V781.5ZM1754.0 781.4V768.9H1755.0V781.4ZM1755.0 781.6V768.9H1755.2V781.6ZM1755.2 783.3V766.1H1756.2V783.3ZM1756.2 782.4V766.1H1756.9V782.4ZM1756.9 783.6V777.9H1757.9V783.6ZM1757.9 783.1V778.0H1758.9V783.1ZM1758.9 782.7V778.1H1759.9V782.7ZM1759.9 782.8V777.6H1760.0V782.8ZM1587.3 789.5V741.8H1588.3V789.5ZM1588.3 789.5V739.2H1589.3V789.5ZM1589.3 789.5V741.2H1590.0V789.5ZM1590.0 789.5V741.5H1591.0V789.5ZM1591.0 789.5V741.5H1591.8V789.5ZM1591.8 789.5V737.5H1592.8V789.5ZM1592.8 789.5V737.5H1593.8V789.5ZM1593.8 789.5V737.5H1594.1V789.5ZM1595.0 789.5V745.5H1596.0V789.5ZM1596.0 789.5V745.5H1596.8V789.5ZM1596.8 789.5V748.5H1597.8V789.5ZM1597.8 789.5V748.5H1598.6V789.5ZM1600.0 789.5V766.5H1601.0V789.5ZM1601.0 789.5V766.5H1601.4V789.5ZM1601.4 789.5V769.5H1602.4V789.5ZM1602.4 789.5V769.5H1603.0V789.5Z" fill="#000" shape-rendering="crispEdges"/>
<path d="M1588 789.5V283.0M1593 789.5V600.4M1655 789.5V685.7M1667 789.5V742.0M1629 789.5V760.0M1682 788.4V329.0M1685 784.4V523.0M1688 780.3V132.0M1686 782.3V616.0M1693 773.8V581.0M1700 773.7V524.0M1701 774.3V506.8M1702 774.9V552.0M1709 775.2V627.0M1711 775.2V677.0M1719 775.4V671.0M1724 776.5V390.0M1726 776.9V440.0M1727 777.4V440.0M1730 778.5V398.0M1736 779.6V406.0M1732 779.1V630.0M1734 779.2V640.0M1741 780.3V657.0M1778 782.9V751.8M1797 779.9V752.6M1801 779.1V744.6M1820 776.2V743.8M1830 776.6V738.8M1842 777.4V743.8M1848 778.0V747.7M1866 780.3V721.9M1868 780.7V745.0M1870 781.0V745.0M1877 782.1V740.6M1960 785.0V728.0M1966 779.9V702.8M1971 778.1V743.0M1979 778.1V744.0M2008 782.7V730.0M2003 782.4V741.0M2014 783.2V728.0M2128 788.3V779.3M2144 788.3V779.3M2229 788.9V780.0M2244 788.9V780.0" stroke="#000" stroke-width="2" fill="none" shape-rendering="crispEdges"/>
<line x1="1478.80" y1="73.80" x2="1478.80" y2="798.60" stroke="#000" stroke-width="3.3" />
<line x1="1463.40" y1="791.00" x2="2364.40" y2="791.00" stroke="#000" stroke-width="3.3" />
<line x1="1463.40" y1="791.00" x2="1478.80" y2="791.00" stroke="#000" stroke-width="3.2" />
<line x1="1463.40" y1="705.10" x2="1478.80" y2="705.10" stroke="#000" stroke-width="3.2" />
<line x1="1463.40" y1="619.20" x2="1478.80" y2="619.20" stroke="#000" stroke-width="3.2" />
<line x1="1463.40" y1="533.30" x2="1478.80" y2="533.30" stroke="#000" stroke-width="3.2" />
<line x1="1463.40" y1="447.40" x2="1478.80" y2="447.40" stroke="#000" stroke-width="3.2" />
<line x1="1463.40" y1="361.50" x2="1478.80" y2="361.50" stroke="#000" stroke-width="3.2" />
<line x1="1463.40" y1="275.60" x2="1478.80" y2="275.60" stroke="#000" stroke-width="3.2" />
<line x1="1463.40" y1="189.70" x2="1478.80" y2="189.70" stroke="#000" stroke-width="3.2" />
<line x1="1463.40" y1="103.80" x2="1478.80" y2="103.80" stroke="#000" stroke-width="3.2" />
<line x1="1471.20" y1="748.05" x2="1478.80" y2="748.05" stroke="#000" stroke-width="3.2" />
<line x1="1471.20" y1="662.15" x2="1478.80" y2="662.15" stroke="#000" stroke-width="3.2" />
<line x1="1471.20" y1="576.25" x2="1478.80" y2="576.25" stroke="#000" stroke-width="3.2" />
<line x1="1471.20" y1="490.35" x2="1478.80" y2="490.35" stroke="#000" stroke-width="3.2" />
<line x1="1471.20" y1="404.45" x2="1478.80" y2="404.45" stroke="#000" stroke-width="3.2" />
<line x1="1471.20" y1="318.55" x2="1478.80" y2="318.55" stroke="#000" stroke-width="3.2" />
<line x1="1471.20" y1="232.65" x2="1478.80" y2="232.65" stroke="#000" stroke-width="3.2" />
<line x1="1471.20" y1="146.75" x2="1478.80" y2="146.75" stroke="#000" stroke-width="3.2" />
<line x1="1566.80" y1="791.00" x2="1566.80" y2="806.40" stroke="#000" stroke-width="3.2" />
<line x1="1743.60" y1="791.00" x2="1743.60" y2="806.40" stroke="#000" stroke-width="3.2" />
<line x1="1920.40" y1="791.00" x2="1920.40" y2="806.40" stroke="#000" stroke-width="3.2" />
<line x1="2097.20" y1="791.00" x2="2097.20" y2="806.40" stroke="#000" stroke-width="3.2" />
<line x1="2274.00" y1="791.00" x2="2274.00" y2="806.40" stroke="#000" stroke-width="3.2" />
<line x1="1655.20" y1="791.00" x2="1655.20" y2="798.60" stroke="#000" stroke-width="3.2" />
<line x1="1832.00" y1="791.00" x2="1832.00" y2="798.60" stroke="#000" stroke-width="3.2" />
<line x1="2008.80" y1="791.00" x2="2008.80" y2="798.60" stroke="#000" stroke-width="3.2" />
<line x1="2185.60" y1="791.00" x2="2185.60" y2="798.60" stroke="#000" stroke-width="3.2" />
<line x1="2362.40" y1="791.00" x2="2362.40" y2="798.60" stroke="#000" stroke-width="3.2" />
<text transform="translate(1456.09,799.91) scale(1.0370,1)" font-size="29.30" text-anchor="end">0</text>
<text transform="translate(1456.09,714.01) scale(1.0370,1)" font-size="29.30" text-anchor="end">3,000</text>
<text transform="translate(1456.09,628.11) scale(1.0370,1)" font-size="29.30" text-anchor="end">6,000</text>
<text transform="translate(1456.09,542.21) scale(1.0370,1)" font-size="29.30" text-anchor="end">9,000</text>
<text transform="translate(1456.09,456.31) scale(1.0370,1)" font-size="29.30" text-anchor="end">12,000</text>
<text transform="translate(1456.09,370.41) scale(1.0370,1)" font-size="29.30" text-anchor="end">15,000</text>
<text transform="translate(1456.09,284.51) scale(1.0370,1)" font-size="29.30" text-anchor="end">18,000</text>
<text transform="translate(1456.09,198.61) scale(1.0370,1)" font-size="29.30" text-anchor="end">21,000</text>
<text transform="translate(1456.09,112.71) scale(1.0370,1)" font-size="29.30" text-anchor="end">24,000</text>
<text transform="translate(1568.00,837.70) scale(1.0093,1)" font-size="30.00" text-anchor="middle">16,000</text>
<text transform="translate(1744.80,837.70) scale(1.0093,1)" font-size="30.00" text-anchor="middle">18,000</text>
<text transform="translate(1921.60,837.70) scale(1.0093,1)" font-size="30.00" text-anchor="middle">20,000</text>
<text transform="translate(2098.40,837.70) scale(1.0093,1)" font-size="30.00" text-anchor="middle">22,000</text>
<text transform="translate(2275.20,837.70) scale(1.0093,1)" font-size="30.00" text-anchor="middle">24,000</text>
<text transform="translate(1259.85,75.96) scale(1.0033,1)" font-size="74.42">b</text>
<text transform="translate(1321.70,482.52) rotate(-90) scale(0.9816,1)" font-size="37.54">Intensity</text>
<text transform="translate(1754.83,905.80) scale(0.9543,1)" font-size="34.93">Frequency (cm</text>
<text transform="translate(1976.59,888.70) scale(0.9931,1)" font-size="20.29">-1</text>
<text transform="translate(1995.63,905.23) scale(0.9969,1)" font-size="33.69">)</text>
<text transform="translate(1866.81,120.00) scale(0.9333,1)" font-size="69.57">HT</text>
<text transform="translate(1570.22,260.43) scale(0.9845,1)" font-size="37.46">0-0</text>
<text transform="translate(1659.26,118.43) scale(1.0015,1)" font-size="37.04">134</text>
<text transform="translate(1721.23,99.50) scale(1.0631,1)" font-size="22.17">1</text>
</svg>
</body></html>
